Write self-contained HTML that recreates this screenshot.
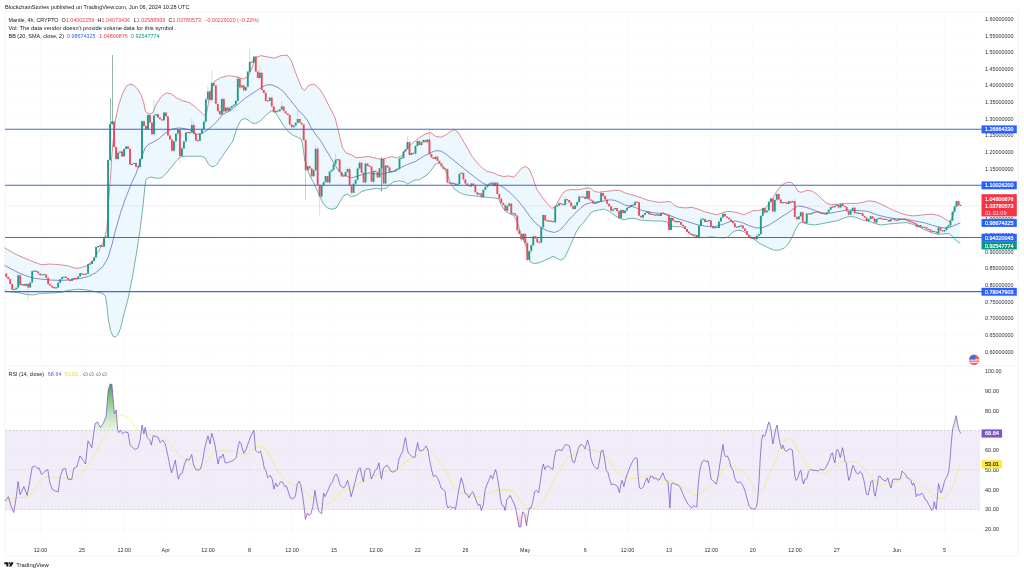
<!DOCTYPE html>
<html lang="en"><head><meta charset="utf-8"><title>Mantle 4h chart</title>
<style>html,body{margin:0;padding:0;background:#fff;}body{width:1024px;height:573px;overflow:hidden;font-family:"Liberation Sans", Arial, sans-serif;}svg{display:block}</style>
</head><body>
<svg width="1024" height="573" viewBox="0 0 1024 573" font-family='"Liberation Sans", Arial, sans-serif' shape-rendering="geometricPrecision">
<rect width="1024" height="573" fill="#ffffff"/>
<defs>
<linearGradient id="gob" x1="0" y1="384" x2="0" y2="431" gradientUnits="userSpaceOnUse"><stop offset="0" stop-color="#3d9a4a" stop-opacity="0.95"/><stop offset="0.5" stop-color="#66bb6a" stop-opacity="0.6"/><stop offset="1" stop-color="#a5d6a7" stop-opacity="0.25"/></linearGradient>
<linearGradient id="gos" x1="0" y1="509" x2="0" y2="528" gradientUnits="userSpaceOnUse"><stop offset="0" stop-color="#ff8a80" stop-opacity="0.05"/><stop offset="1" stop-color="#ff5252" stop-opacity="0.5"/></linearGradient>
<clipPath id="cob"><rect x="0" y="370" width="965" height="60.4"/></clipPath>
<clipPath id="cos"><rect x="0" y="509.4" width="965" height="30"/></clipPath>
<filter id="soft" x="-2%" y="-2%" width="104%" height="104%"><feGaussianBlur stdDeviation="0.32"/></filter>
</defs>
<g filter="url(#soft)">
<rect x="5" y="12" width="1013.5" height="543.7" fill="none" stroke="#f0f2f6" stroke-width="0.8"/>
<line x1="5" x2="1018.5" y1="365.8" y2="365.8" stroke="#eceef3" stroke-width="0.8"/>
<path d="M40.5 12V542 M82.0 12V542 M124.2 12V542 M165.8 12V542 M208.0 12V542 M249.5 12V542 M292.0 12V542 M334.0 12V542 M376.0 12V542 M417.8 12V542 M465.5 12V542 M525.0 12V542 M585.2 12V542 M627.5 12V542 M669.0 12V542 M711.2 12V542 M752.8 12V542 M795.0 12V542 M836.8 12V542 M896.8 12V542 M944.5 12V542 M5 18.9H980 M5 35.5H980 M5 52.2H980 M5 68.8H980 M5 85.5H980 M5 102.1H980 M5 118.7H980 M5 135.4H980 M5 152.0H980 M5 168.7H980 M5 185.3H980 M5 201.9H980 M5 218.6H980 M5 235.2H980 M5 251.9H980 M5 268.5H980 M5 285.1H980 M5 301.8H980 M5 318.4H980 M5 335.1H980 M5 351.7H980 M5 371.5H980 M5 391.2H980 M5 410.9H980 M5 450.3H980 M5 489.7H980 M5 529.1H980" stroke="#f8f9fb" stroke-width="0.7" fill="none"/>
<line x1="5" x2="981" y1="206.0" y2="206.0" stroke="#f2eaee" stroke-width="0.9"/>
<polygon points="4.5,247.7 15.0,254.0 25.0,258.3 32.7,261.6 41.5,264.8 50.0,264.0 60.0,264.8 68.0,265.8 75.4,268.3 80.4,267.8 86.7,265.8 93.0,260.3 99.2,250.2 103.0,242.7 106.8,230.0 108.3,205.0 109.5,190.0 110.9,172.0 111.4,161.0 112.7,145.0 115.3,120.8 118.6,105.4 122.4,94.0 126.2,86.5 130.0,84.0 133.7,85.3 137.5,89.0 141.3,95.3 143.8,102.9 145.5,111.7 149.0,114.0 152.6,113.0 156.3,104.0 161.4,96.6 166.4,92.8 171.4,94.0 176.5,97.8 182.7,100.8 189.0,102.4 194.0,105.9 199.1,110.4 204.1,115.4 206.6,113.0 209.0,100.0 211.0,90.0 214.2,81.5 220.6,77.7 228.1,75.7 235.7,76.5 243.2,79.0 248.2,76.5 252.0,67.7 255.8,57.6 260.8,55.6 268.3,57.1 274.6,58.1 280.9,55.6 287.2,55.1 291.0,60.1 294.7,70.2 298.5,80.2 302.3,89.0 304.8,90.3 308.6,85.3 313.6,84.0 318.6,87.8 323.7,95.3 328.7,105.4 331.2,110.0 335.0,117.5 337.5,127.6 340.0,137.7 342.5,147.7 346.3,153.2 351.3,154.8 356.3,157.8 361.4,157.3 368.9,156.5 376.5,158.3 381.5,159.5 386.5,158.3 391.5,156.5 396.6,157.8 401.6,156.5 405.4,150.2 409.2,146.5 413.0,142.7 419.3,137.7 425.6,133.9 430.6,132.6 435.7,136.4 440.7,137.2 445.7,135.1 450.7,131.4 454.5,129.6 458.3,132.6 462.0,138.9 467.1,147.7 472.1,156.5 477.1,162.8 482.2,167.8 487.2,171.6 492.2,172.4 497.3,174.9 503.5,176.6 508.6,175.9 514.0,177.2 517.8,172.7 521.6,168.2 525.4,166.4 529.1,168.9 532.9,177.7 536.7,189.0 541.7,196.6 546.7,202.9 551.8,208.4 555.5,206.6 559.3,199.1 563.1,192.8 566.9,190.3 571.9,189.5 576.9,189.8 581.9,189.0 587.0,187.8 590.7,188.3 594.5,191.5 599.5,192.3 604.6,191.5 609.6,191.0 614.6,190.3 619.7,190.3 624.7,192.8 629.0,194.0 635.3,195.8 641.6,197.8 647.9,200.3 654.2,201.6 660.5,202.4 666.7,201.6 670.5,201.6 674.3,205.4 679.3,207.4 685.6,207.9 691.9,207.4 698.2,209.1 704.5,211.7 710.7,213.4 717.0,214.9 722.1,212.9 727.1,211.2 732.1,211.7 738.4,212.9 744.0,214.9 747.8,212.9 752.8,210.9 759.1,210.4 764.1,209.1 769.1,204.1 772.9,197.8 776.7,191.5 780.5,186.5 784.2,183.5 788.0,182.2 791.8,182.7 795.5,186.5 798.1,191.5 801.8,192.3 806.9,190.3 811.9,191.0 816.9,194.1 821.9,199.1 827.0,203.4 832.0,204.9 838.3,204.1 844.6,203.4 850.9,203.4 857.1,203.4 862.3,202.4 868.6,200.8 874.9,201.6 881.1,204.1 887.4,207.4 893.7,210.4 900.0,212.9 906.3,214.9 912.6,215.9 918.9,215.4 925.1,214.7 931.4,214.2 936.5,214.9 941.5,216.7 946.5,220.0 950.0,222.0 952.0,218.0 954.0,212.0 956.0,207.0 958.0,204.0 960.3,202.5 960.3,243.4 956.6,241.1 952.8,236.8 949.0,233.5 944.0,233.8 937.7,234.3 931.4,232.5 925.1,230.0 918.9,226.7 912.6,224.2 906.3,222.5 900.0,223.0 893.7,223.5 887.4,224.2 881.1,225.0 874.9,223.5 868.6,221.0 862.3,220.0 856.0,217.4 853.4,216.7 848.4,216.7 843.3,218.4 838.3,220.5 832.0,221.7 825.7,223.0 819.4,224.2 814.4,225.0 808.1,224.2 803.1,222.5 799.3,223.0 795.5,229.3 791.8,238.0 788.0,244.3 784.2,248.1 779.2,250.1 774.2,250.1 769.1,248.1 764.1,245.6 759.1,243.1 754.1,239.3 749.0,235.0 744.0,231.8 740.9,230.5 735.9,230.5 732.1,232.5 728.3,236.8 724.6,238.0 718.3,237.6 710.7,236.8 704.5,237.6 696.9,237.6 691.9,235.0 688.1,231.8 684.3,228.0 680.6,226.7 674.3,226.7 669.3,225.5 666.7,221.7 661.7,221.0 654.2,221.0 646.6,220.5 639.1,220.0 635.3,218.4 629.0,218.4 624.7,219.8 619.7,218.5 614.6,215.4 609.6,211.7 604.6,209.1 599.5,209.9 594.5,210.9 590.7,212.9 587.0,218.0 583.2,223.0 579.4,226.7 575.7,233.0 571.9,241.8 568.1,250.6 564.3,258.2 560.6,260.2 556.8,258.2 553.0,256.2 549.3,258.2 544.2,260.7 539.2,262.7 534.2,263.7 530.4,262.0 529.1,258.2 527.4,249.5 523.7,240.7 519.9,230.7 517.4,221.9 513.6,215.6 508.6,213.1 504.8,210.6 501.0,204.3 498.5,198.5 494.7,198.0 488.5,197.5 482.2,196.7 475.9,196.0 469.6,195.5 463.3,194.2 458.3,191.7 454.5,189.2 450.7,182.9 447.0,174.1 443.2,166.6 439.4,162.8 435.7,164.0 431.9,169.1 428.1,174.1 423.1,177.4 419.2,179.9 415.4,179.9 411.7,181.7 407.9,184.2 404.1,181.7 399.1,180.9 394.0,181.7 390.3,184.2 386.5,188.0 381.5,189.2 376.5,188.4 371.4,189.2 366.4,190.0 361.4,191.7 356.3,195.5 351.3,196.7 347.5,194.2 343.8,195.5 340.0,201.8 336.2,208.0 331.2,209.3 327.4,208.0 323.7,204.3 319.9,196.7 316.1,188.0 312.3,180.4 308.6,172.9 304.8,160.3 302.3,142.7 301.0,139.0 298.5,137.6 293.5,135.5 288.5,131.8 283.4,125.5 279.7,119.2 275.9,113.0 272.0,110.4 267.0,114.2 260.8,120.5 255.8,123.5 252.0,123.0 248.2,120.0 244.5,118.5 240.7,120.5 236.9,128.0 233.1,140.6 228.1,148.0 221.8,156.9 216.8,164.5 215.4,165.7 211.7,167.0 207.9,163.2 205.4,158.2 201.6,156.2 194.0,156.2 186.5,156.2 180.2,156.9 176.5,160.7 171.4,167.0 166.4,173.3 161.4,177.8 156.3,178.3 151.3,177.0 147.6,178.0 145.8,180.2 144.8,187.7 142.8,207.8 140.3,228.0 136.5,253.0 132.7,275.7 129.0,294.0 128.0,299.0 125.6,308.0 123.0,318.0 120.6,328.0 118.0,334.4 115.6,337.0 113.0,336.2 110.6,330.7 108.5,320.6 106.8,305.5 105.5,296.7 103.0,293.5 95.5,291.7 86.7,290.0 77.9,289.2 67.8,290.5 60.3,292.5 50.0,293.0 40.2,293.5 32.7,295.0 25.0,294.2 20.0,293.0 4.5,291.0" fill="#2196f3" fill-opacity="0.07"/>
<polyline points="4.5,247.7 15.0,254.0 25.0,258.3 32.7,261.6 41.5,264.8 50.0,264.0 60.0,264.8 68.0,265.8 75.4,268.3 80.4,267.8 86.7,265.8 93.0,260.3 99.2,250.2 103.0,242.7 106.8,230.0 108.3,205.0 109.5,190.0 110.9,172.0 111.4,161.0 112.7,145.0 115.3,120.8 118.6,105.4 122.4,94.0 126.2,86.5 130.0,84.0 133.7,85.3 137.5,89.0 141.3,95.3 143.8,102.9 145.5,111.7 149.0,114.0 152.6,113.0 156.3,104.0 161.4,96.6 166.4,92.8 171.4,94.0 176.5,97.8 182.7,100.8 189.0,102.4 194.0,105.9 199.1,110.4 204.1,115.4 206.6,113.0 209.0,100.0 211.0,90.0 214.2,81.5 220.6,77.7 228.1,75.7 235.7,76.5 243.2,79.0 248.2,76.5 252.0,67.7 255.8,57.6 260.8,55.6 268.3,57.1 274.6,58.1 280.9,55.6 287.2,55.1 291.0,60.1 294.7,70.2 298.5,80.2 302.3,89.0 304.8,90.3 308.6,85.3 313.6,84.0 318.6,87.8 323.7,95.3 328.7,105.4 331.2,110.0 335.0,117.5 337.5,127.6 340.0,137.7 342.5,147.7 346.3,153.2 351.3,154.8 356.3,157.8 361.4,157.3 368.9,156.5 376.5,158.3 381.5,159.5 386.5,158.3 391.5,156.5 396.6,157.8 401.6,156.5 405.4,150.2 409.2,146.5 413.0,142.7 419.3,137.7 425.6,133.9 430.6,132.6 435.7,136.4 440.7,137.2 445.7,135.1 450.7,131.4 454.5,129.6 458.3,132.6 462.0,138.9 467.1,147.7 472.1,156.5 477.1,162.8 482.2,167.8 487.2,171.6 492.2,172.4 497.3,174.9 503.5,176.6 508.6,175.9 514.0,177.2 517.8,172.7 521.6,168.2 525.4,166.4 529.1,168.9 532.9,177.7 536.7,189.0 541.7,196.6 546.7,202.9 551.8,208.4 555.5,206.6 559.3,199.1 563.1,192.8 566.9,190.3 571.9,189.5 576.9,189.8 581.9,189.0 587.0,187.8 590.7,188.3 594.5,191.5 599.5,192.3 604.6,191.5 609.6,191.0 614.6,190.3 619.7,190.3 624.7,192.8 629.0,194.0 635.3,195.8 641.6,197.8 647.9,200.3 654.2,201.6 660.5,202.4 666.7,201.6 670.5,201.6 674.3,205.4 679.3,207.4 685.6,207.9 691.9,207.4 698.2,209.1 704.5,211.7 710.7,213.4 717.0,214.9 722.1,212.9 727.1,211.2 732.1,211.7 738.4,212.9 744.0,214.9 747.8,212.9 752.8,210.9 759.1,210.4 764.1,209.1 769.1,204.1 772.9,197.8 776.7,191.5 780.5,186.5 784.2,183.5 788.0,182.2 791.8,182.7 795.5,186.5 798.1,191.5 801.8,192.3 806.9,190.3 811.9,191.0 816.9,194.1 821.9,199.1 827.0,203.4 832.0,204.9 838.3,204.1 844.6,203.4 850.9,203.4 857.1,203.4 862.3,202.4 868.6,200.8 874.9,201.6 881.1,204.1 887.4,207.4 893.7,210.4 900.0,212.9 906.3,214.9 912.6,215.9 918.9,215.4 925.1,214.7 931.4,214.2 936.5,214.9 941.5,216.7 946.5,220.0 950.0,222.0 952.0,218.0 954.0,212.0 956.0,207.0 958.0,204.0 960.3,202.5" fill="none" stroke="#cc424e" stroke-width="0.65" stroke-opacity="0.95" stroke-linejoin="round"/>
<polyline points="4.5,291.0 20.0,293.0 25.0,294.2 32.7,295.0 40.2,293.5 50.0,293.0 60.3,292.5 67.8,290.5 77.9,289.2 86.7,290.0 95.5,291.7 103.0,293.5 105.5,296.7 106.8,305.5 108.5,320.6 110.6,330.7 113.0,336.2 115.6,337.0 118.0,334.4 120.6,328.0 123.0,318.0 125.6,308.0 128.0,299.0 129.0,294.0 132.7,275.7 136.5,253.0 140.3,228.0 142.8,207.8 144.8,187.7 145.8,180.2 147.6,178.0 151.3,177.0 156.3,178.3 161.4,177.8 166.4,173.3 171.4,167.0 176.5,160.7 180.2,156.9 186.5,156.2 194.0,156.2 201.6,156.2 205.4,158.2 207.9,163.2 211.7,167.0 215.4,165.7 216.8,164.5 221.8,156.9 228.1,148.0 233.1,140.6 236.9,128.0 240.7,120.5 244.5,118.5 248.2,120.0 252.0,123.0 255.8,123.5 260.8,120.5 267.0,114.2 272.0,110.4 275.9,113.0 279.7,119.2 283.4,125.5 288.5,131.8 293.5,135.5 298.5,137.6 301.0,139.0 302.3,142.7 304.8,160.3 308.6,172.9 312.3,180.4 316.1,188.0 319.9,196.7 323.7,204.3 327.4,208.0 331.2,209.3 336.2,208.0 340.0,201.8 343.8,195.5 347.5,194.2 351.3,196.7 356.3,195.5 361.4,191.7 366.4,190.0 371.4,189.2 376.5,188.4 381.5,189.2 386.5,188.0 390.3,184.2 394.0,181.7 399.1,180.9 404.1,181.7 407.9,184.2 411.7,181.7 415.4,179.9 419.2,179.9 423.1,177.4 428.1,174.1 431.9,169.1 435.7,164.0 439.4,162.8 443.2,166.6 447.0,174.1 450.7,182.9 454.5,189.2 458.3,191.7 463.3,194.2 469.6,195.5 475.9,196.0 482.2,196.7 488.5,197.5 494.7,198.0 498.5,198.5 501.0,204.3 504.8,210.6 508.6,213.1 513.6,215.6 517.4,221.9 519.9,230.7 523.7,240.7 527.4,249.5 529.1,258.2 530.4,262.0 534.2,263.7 539.2,262.7 544.2,260.7 549.3,258.2 553.0,256.2 556.8,258.2 560.6,260.2 564.3,258.2 568.1,250.6 571.9,241.8 575.7,233.0 579.4,226.7 583.2,223.0 587.0,218.0 590.7,212.9 594.5,210.9 599.5,209.9 604.6,209.1 609.6,211.7 614.6,215.4 619.7,218.5 624.7,219.8 629.0,218.4 635.3,218.4 639.1,220.0 646.6,220.5 654.2,221.0 661.7,221.0 666.7,221.7 669.3,225.5 674.3,226.7 680.6,226.7 684.3,228.0 688.1,231.8 691.9,235.0 696.9,237.6 704.5,237.6 710.7,236.8 718.3,237.6 724.6,238.0 728.3,236.8 732.1,232.5 735.9,230.5 740.9,230.5 744.0,231.8 749.0,235.0 754.1,239.3 759.1,243.1 764.1,245.6 769.1,248.1 774.2,250.1 779.2,250.1 784.2,248.1 788.0,244.3 791.8,238.0 795.5,229.3 799.3,223.0 803.1,222.5 808.1,224.2 814.4,225.0 819.4,224.2 825.7,223.0 832.0,221.7 838.3,220.5 843.3,218.4 848.4,216.7 853.4,216.7 856.0,217.4 862.3,220.0 868.6,221.0 874.9,223.5 881.1,225.0 887.4,224.2 893.7,223.5 900.0,223.0 906.3,222.5 912.6,224.2 918.9,226.7 925.1,230.0 931.4,232.5 937.7,234.3 944.0,233.8 949.0,233.5 952.8,236.8 956.6,241.1 960.3,243.4" fill="none" stroke="#1f8472" stroke-width="0.65" stroke-opacity="0.95" stroke-linejoin="round"/>
<polyline points="4.5,265.3 11.3,269.0 18.8,272.9 25.0,275.4 32.7,277.9 40.2,279.0 50.2,280.0 60.3,280.4 70.3,280.0 80.4,278.4 88.0,276.6 95.5,272.9 103.0,266.6 108.0,257.8 111.8,245.2 115.6,230.0 120.6,212.6 124.9,200.0 131.2,184.0 136.2,173.3 141.3,158.2 145.0,148.0 148.8,144.3 153.8,141.8 158.9,138.6 163.9,134.3 168.9,130.5 174.0,128.5 179.0,128.0 184.0,128.5 191.5,130.5 196.6,134.3 201.6,133.5 206.6,130.5 211.7,126.7 216.7,121.7 223.0,114.2 230.6,110.4 238.2,104.0 245.7,97.8 253.3,92.8 260.8,87.8 267.0,84.8 272.0,84.8 278.4,87.8 283.4,91.5 288.5,97.8 293.5,104.0 298.5,110.4 303.5,115.4 307.3,120.0 311.1,127.6 316.1,135.1 321.1,141.4 326.2,150.2 330.0,156.5 333.7,162.8 337.5,169.1 341.3,174.1 346.3,175.9 351.3,177.9 356.3,176.6 361.4,174.9 368.9,172.9 376.5,174.1 381.5,174.1 386.5,172.9 391.5,171.6 396.6,170.3 401.6,167.3 406.6,164.8 411.7,162.8 415.5,161.5 423.1,156.5 430.6,152.7 435.7,150.7 440.7,151.0 445.7,154.0 452.0,159.0 458.3,164.0 464.6,169.1 470.9,174.1 477.1,179.1 483.4,183.4 488.5,185.4 494.7,184.9 499.8,185.4 504.8,188.4 510.3,192.8 516.6,199.1 522.9,206.6 529.1,215.4 535.4,223.0 541.7,228.0 548.0,231.0 554.3,232.5 559.3,230.5 564.3,225.5 569.4,219.2 574.4,214.2 579.4,209.1 584.5,204.9 589.5,202.9 594.5,202.4 599.5,201.6 604.6,200.8 609.6,199.8 614.6,200.3 619.7,202.4 624.7,204.9 629.0,205.9 635.3,207.4 641.6,210.4 647.9,211.7 654.2,212.9 660.5,213.4 666.7,214.2 673.0,216.7 679.3,219.2 685.6,221.0 691.9,223.0 698.2,225.0 704.5,226.0 710.7,226.7 717.0,226.0 723.3,224.2 729.6,221.7 735.9,221.0 742.2,222.5 748.5,225.5 756.6,228.0 762.9,227.5 769.1,225.0 775.4,221.0 781.7,216.7 788.0,212.9 793.0,209.1 798.1,205.9 803.1,206.6 809.4,208.4 815.7,210.9 821.9,212.9 828.2,213.4 834.5,212.4 840.8,211.2 847.1,209.9 853.4,210.4 859.7,210.7 865.0,211.0 868.6,211.7 874.9,214.2 881.1,215.9 887.4,217.4 893.7,218.4 900.0,219.2 906.3,219.5 912.6,220.5 918.9,221.7 925.1,223.0 931.4,225.0 937.7,226.7 944.0,228.0 949.0,227.5 954.1,225.5 960.3,222.8" fill="none" stroke="#2f4fa8" stroke-width="0.65" stroke-opacity="0.95" stroke-linejoin="round"/>
<path d="M14.22 288.6V289.8M16.22 287.0V290.1M18.22 274.5V289.8M22.21 284.0V285.5M26.20 283.3V286.4M30.19 281.7V287.9M32.19 270.3V283.2M34.19 270.7V271.5M42.17 274.2V275.3M44.17 273.9V275.0M56.15 287.3V288.3M58.14 282.0V287.9M60.14 279.2V283.9M62.14 276.8V279.7M64.13 276.8V277.4M72.12 278.2V281.0M78.11 275.9V279.6M80.10 272.6V277.4M86.09 273.4V274.7M88.09 264.2V273.9M90.08 263.8V264.6M92.08 261.1V264.1M94.08 256.9V261.1M96.07 245.7V257.7M98.07 245.9V247.3M100.07 245.0V246.9M104.06 236.5V247.3M106.05 236.9V237.2M108.05 158.8V237.3M118.03 152.2V160.6M120.03 150.6V153.5M124.02 148.3V156.4M126.02 146.0V149.4M132.01 164.0V164.5M134.00 162.7V164.7M139.99 157.1V168.7M141.99 120.1V159.5M147.98 113.5V129.7M153.97 100.0V134.9M155.96 114.2V115.4M163.95 112.0V121.6M173.93 141.1V151.7M175.92 133.5V142.9M177.92 129.0V134.6M181.91 146.7V156.1M183.91 140.9V149.0M185.91 131.3V142.7M189.90 132.3V133.2M191.89 118.0V133.8M199.88 133.2V141.8M201.88 128.7V133.5M203.87 120.0V131.1M205.87 97.6V123.1M207.87 86.5V101.3M211.86 70.0V101.9M221.84 97.7V114.7M225.83 107.0V111.6M229.82 106.6V111.8M231.82 105.9V108.8M233.82 104.2V106.2M235.81 99.8V105.5M237.81 76.3V102.3M241.80 84.5V88.1M245.79 86.7V91.2M247.79 71.4V87.2M249.79 48.8V72.3M253.78 56.1V63.4M259.77 65.0V78.2M267.75 100.4V101.4M269.75 97.1V101.0M275.74 110.4V112.8M279.73 109.0V111.7M281.73 101.6V110.5M293.71 125.4V127.5M295.70 121.9V126.2M297.70 110.0V123.7M307.68 166.0V171.1M313.67 168.8V176.8M315.67 145.6V171.1M321.65 185.3V198.1M323.65 181.4V186.1M325.65 176.0V183.7M329.64 171.2V184.1M331.64 169.3V172.0M333.63 162.9V171.4M335.63 154.0V164.4M337.62 159.4V160.1M345.61 171.3V177.0M347.61 167.6V172.4M353.60 183.1V193.2M355.59 179.4V184.6M357.59 167.4V181.8M359.58 161.0V169.6M365.57 162.4V183.5M373.56 169.4V183.8M379.55 167.7V177.6M385.54 165.0V184.3M391.52 170.9V172.4M395.52 169.1V171.7M397.51 168.4V169.8M399.51 157.9V170.2M401.51 157.8V159.1M403.50 150.4V158.8M405.50 149.0V151.9M407.50 136.4V149.7M411.49 152.8V155.1M415.48 144.8V155.5M417.48 140.2V146.8M421.47 141.8V146.4M423.47 139.5V142.9M427.46 138.9V142.8M435.44 156.2V160.0M457.40 183.8V185.9M459.40 171.7V185.2M461.40 172.6V174.1M471.38 183.1V187.1M479.36 193.1V195.2M483.35 189.2V198.2M485.35 185.9V189.9M487.35 185.0V188.2M489.34 183.6V185.3M491.34 182.0V184.4M495.33 182.1V187.0M507.31 204.4V211.4M509.31 202.8V206.4M513.30 213.5V213.9M523.28 233.3V240.9M529.27 251.0V260.5M531.27 243.4V253.0M533.26 235.7V246.3M541.25 226.4V244.2M543.24 214.4V228.9M551.23 220.9V221.7M555.22 205.0V223.6M557.22 204.9V206.9M559.21 202.2V205.9M565.20 196.0V206.1M575.18 205.6V209.5M577.18 201.7V207.1M579.18 195.0V202.7M583.17 196.1V197.3M587.16 187.0V199.3M595.15 202.7V203.8M597.14 201.9V203.6M599.14 201.3V202.0M601.14 190.0V202.6M613.11 208.5V211.1M615.11 207.6V209.4M621.10 208.8V218.5M625.09 210.0V214.1M627.09 207.5V210.8M629.08 206.2V208.2M631.08 204.0V207.4M635.07 201.0V205.6M643.06 213.9V218.6M645.06 212.3V215.6M647.05 210.8V213.1M651.04 213.9V214.5M657.03 214.3V215.9M661.03 212.7V216.2M671.01 215.8V230.3M677.00 220.8V222.4M694.96 234.8V235.4M698.96 224.4V239.1M700.95 217.2V227.0M702.95 218.3V219.5M706.94 220.4V222.3M708.94 220.4V221.4M714.93 227.2V228.3M718.92 221.2V228.3M720.91 217.4V221.5M722.91 213.7V218.0M738.88 225.6V227.7M740.88 224.8V226.4M752.86 237.9V238.8M756.85 234.4V240.3M758.84 233.4V236.1M760.84 215.4V234.7M762.84 207.2V217.3M766.83 209.9V212.9M768.83 200.7V211.0M770.82 197.2V202.1M774.81 198.2V213.6M776.81 193.4V201.6M782.80 202.1V203.6M788.79 200.4V204.0M792.78 200.4V203.0M798.77 216.1V220.1M800.77 211.0V217.5M806.76 213.2V223.3M810.75 213.1V214.5M812.74 212.1V214.3M816.74 211.4V212.6M822.73 213.2V213.8M826.72 211.8V214.6M828.71 209.6V213.4M830.71 206.9V210.0M834.70 205.4V207.9M836.70 204.5V206.2M840.69 203.8V208.6M850.67 209.5V214.8M852.67 207.3V212.2M856.66 212.4V213.3M860.66 213.0V214.0M868.64 218.6V221.4M870.64 215.3V220.0M876.63 218.6V224.1M878.62 217.8V219.7M884.61 218.6V219.6M890.60 218.5V222.1M892.60 218.5V219.5M898.59 218.3V221.5M900.58 218.5V219.5M904.57 218.8V219.3M918.55 224.9V227.5M922.54 226.7V227.8M932.52 231.1V231.7M938.51 227.1V234.9M944.50 229.3V232.4M946.50 226.5V230.9M948.49 224.3V227.5M950.49 219.1V226.8M952.49 211.0V221.8M954.48 204.8V212.4M956.48 200.5V207.1" stroke="#0f9480" stroke-width="0.55" stroke-opacity="0.45" fill="none"/>
<path d="M6.24 273.3V277.8M8.24 276.3V279.4M10.23 278.1V284.0M12.23 283.7V289.9M20.21 273.5V285.8M24.21 283.9V286.3M28.20 283.6V300.5M36.18 270.8V272.0M38.18 271.1V274.7M40.18 273.2V276.1M46.16 273.9V278.8M48.16 276.5V285.2M50.16 283.2V286.3M52.15 285.8V288.1M54.15 286.7V288.5M66.13 276.0V278.8M68.12 277.8V280.2M70.12 279.0V281.6M74.11 278.1V278.9M76.11 278.5V278.8M82.10 273.3V275.2M84.09 273.8V275.2M102.06 245.2V246.8M114.04 120.7V147.4M116.04 145.8V160.6M122.02 150.0V156.8M128.01 145.2V149.3M130.01 146.6V166.4M136.00 161.6V167.6M137.99 166.3V167.1M143.98 120.5V127.4M145.98 125.4V129.9M149.97 114.8V124.4M151.97 122.1V136.0M157.96 113.4V118.1M159.95 116.9V120.1M161.95 119.0V120.6M165.94 111.9V116.9M167.94 115.9V136.6M169.94 134.1V140.2M171.93 138.5V151.9M179.92 129.0V163.0M187.90 131.8V133.1M193.89 122.8V135.5M195.89 131.8V141.2M197.88 140.0V141.4M209.86 89.4V100.9M213.85 82.4V86.3M215.85 85.2V104.6M217.85 103.8V112.4M219.84 111.1V115.1M223.84 97.1V113.6M227.83 107.1V110.9M239.81 78.2V89.5M243.80 84.4V92.1M251.78 61.2V62.9M255.78 55.9V71.7M257.77 70.4V78.4M261.77 71.9V91.0M263.76 89.4V93.7M265.76 90.8V101.8M271.75 97.4V108.2M273.74 106.2V112.4M277.74 111.0V111.4M283.72 106.0V112.9M285.72 110.7V113.4M287.72 112.9V115.5M289.71 113.9V124.5M291.71 124.4V127.7M299.70 118.5V123.1M301.69 122.5V125.1M303.69 124.3V141.8M309.68 165.2V169.5M311.67 167.2V178.2M317.66 146.9V186.0M319.66 183.4V215.6M327.64 176.0V183.0M339.62 158.3V172.1M341.62 171.6V177.2M343.61 175.7V176.4M349.60 166.8V185.8M351.60 184.0V194.9M361.58 161.2V173.2M363.58 171.6V182.6M367.57 163.3V166.3M369.57 165.2V166.7M371.56 164.9V182.1M375.55 170.6V172.2M377.55 170.7V178.2M383.54 158.3V184.0M387.53 164.4V168.3M389.53 165.7V174.1M393.52 171.2V172.1M409.49 139.8V156.0M413.48 153.0V153.8M419.47 140.4V145.6M425.46 139.9V142.6M429.45 128.9V156.1M431.45 154.1V158.5M433.45 157.1V159.5M437.44 155.3V162.3M439.44 160.6V163.7M441.43 162.6V168.0M443.43 166.0V169.5M445.43 168.3V168.9M447.42 168.4V184.5M449.42 182.2V183.5M451.41 183.0V183.8M453.41 183.3V183.7M455.41 183.0V185.8M463.39 170.9V181.0M465.39 179.4V184.3M467.38 183.1V185.7M469.38 184.6V186.7M473.37 183.3V186.2M475.37 184.2V192.6M477.37 191.8V195.5M481.36 191.8V198.1M493.34 181.4V187.0M497.33 182.3V195.3M499.33 193.2V199.1M501.32 198.5V203.4M503.32 201.9V205.1M505.31 204.5V211.4M511.30 203.0V214.5M515.30 212.7V215.5M517.29 215.3V232.4M519.29 229.3V235.4M521.28 233.5V243.0M525.28 233.2V243.1M527.27 241.0V262.0M535.26 235.2V238.6M537.25 237.2V243.4M539.25 241.7V242.7M545.24 214.7V220.6M547.24 220.3V221.5M549.23 220.1V221.5M553.23 220.6V222.3M561.21 202.8V204.9M563.21 204.0V205.2M567.20 198.8V201.0M569.20 199.9V203.4M571.19 200.9V206.4M573.19 205.2V210.1M581.17 196.5V197.4M585.17 196.1V199.1M589.16 189.8V201.0M591.15 199.6V200.9M593.15 200.4V203.8M603.13 192.7V197.4M605.13 195.3V200.2M607.13 198.2V205.4M609.12 203.6V207.1M611.12 206.2V212.3M617.11 207.3V211.9M619.10 210.8V219.5M623.10 209.2V214.5M633.08 204.6V205.9M637.07 201.5V202.8M639.07 201.8V216.7M641.06 215.4V217.6M649.05 210.9V215.0M653.04 213.6V215.2M655.04 214.8V215.7M659.03 214.0V216.2M663.02 212.8V213.9M665.02 213.5V215.1M667.01 214.0V215.5M669.01 214.8V231.2M673.00 216.6V221.8M675.00 220.7V222.6M678.99 220.9V222.6M680.99 221.4V225.7M682.98 223.8V226.6M684.98 226.1V229.7M686.98 228.8V232.1M688.97 231.4V233.5M690.97 233.4V235.2M692.97 233.7V235.2M696.96 234.5V238.2M704.94 218.1V222.7M710.93 219.1V228.3M712.93 225.5V228.5M716.92 226.9V228.2M724.91 213.1V217.0M726.90 215.7V218.2M728.90 216.9V219.5M730.90 219.1V221.7M732.89 220.2V223.6M734.89 223.2V228.1M736.88 226.9V227.5M742.87 224.9V228.9M744.87 227.6V231.0M746.87 229.5V235.3M748.86 234.4V237.6M750.86 236.2V238.9M754.85 237.5V239.8M764.83 206.5V213.6M772.82 198.6V212.1M778.81 193.6V201.2M780.80 198.4V204.0M784.80 202.0V202.8M786.79 202.0V204.2M790.78 201.0V202.7M794.78 199.0V217.0M796.77 216.1V220.1M802.76 212.2V223.6M804.76 220.7V223.4M808.75 212.8V214.8M814.74 212.0V212.6M818.73 211.3V213.1M820.73 212.4V214.2M824.72 212.5V214.7M832.71 206.2V207.2M838.70 204.6V208.8M842.69 204.0V206.7M844.68 205.3V207.5M846.68 205.9V211.7M848.68 210.5V216.1M854.67 207.0V214.6M858.66 212.0V214.4M862.65 212.4V217.0M864.65 215.6V218.1M866.64 217.2V221.9M872.63 216.0V218.9M874.63 217.7V222.9M880.62 217.5V219.6M882.61 218.2V219.9M886.61 218.7V220.0M888.60 219.2V222.2M894.59 218.0V220.6M896.59 219.7V220.9M902.58 218.4V219.6M906.57 218.5V221.0M908.57 220.2V221.6M910.56 220.8V222.2M912.56 221.1V223.2M914.56 222.5V224.1M916.55 222.5V226.7M920.54 224.5V227.4M924.54 226.6V228.1M926.53 227.1V230.3M928.53 228.9V229.7M930.53 229.3V232.6M934.52 231.2V232.1M936.51 231.1V233.7M940.51 226.9V230.6M942.50 230.0V231.8M958.47 200.3V205.6M960.47 204.8V205.8" stroke="#ea3f50" stroke-width="0.55" stroke-opacity="0.45" fill="none"/>
<path d="M110.50 98.0V161.2M112.50 55.0V124.9M381.50 157.0V191.7" stroke="#4f7f78" stroke-width="0.7" stroke-opacity="0.85" fill="none"/>
<path d="M305.50 138.6V200.5" stroke="#ea3f50" stroke-width="0.7" stroke-opacity="0.5" fill="none"/>
<path d="M13.27 288.9h1.9v1.2h-1.9zM15.27 287.7h1.9v1.6h-1.9zM17.27 275.3h1.9v12.3h-1.9zM21.26 284.1h1.9v1.2h-1.9zM25.25 283.7h1.9v2.0h-1.9zM29.24 282.5h1.9v4.9h-1.9zM31.24 271.3h1.9v11.2h-1.9zM33.24 270.6h1.9v1.2h-1.9zM41.22 274.4h1.9v1.2h-1.9zM43.22 273.9h1.9v1.2h-1.9zM55.20 287.2h1.9v1.2h-1.9zM57.19 282.8h1.9v4.8h-1.9zM59.19 279.3h1.9v3.5h-1.9zM61.19 277.1h1.9v2.1h-1.9zM63.18 276.4h1.9v1.2h-1.9zM71.17 278.4h1.9v2.4h-1.9zM77.16 276.6h1.9v2.0h-1.9zM79.15 273.3h1.9v3.2h-1.9zM85.14 273.6h1.9v1.2h-1.9zM87.14 264.3h1.9v9.4h-1.9zM89.13 263.5h1.9v1.2h-1.9zM91.13 261.1h1.9v2.8h-1.9zM93.13 257.4h1.9v3.6h-1.9zM95.12 247.0h1.9v10.4h-1.9zM97.12 246.0h1.9v1.2h-1.9zM99.12 245.3h1.9v1.2h-1.9zM103.11 237.2h1.9v9.5h-1.9zM105.10 236.5h1.9v1.2h-1.9zM107.10 160.0h1.9v77.0h-1.9zM109.10 124.0h1.9v36.0h-1.9zM111.09 121.5h1.9v2.5h-1.9zM117.08 152.7h1.9v6.2h-1.9zM119.08 151.4h1.9v1.3h-1.9zM123.07 149.1h1.9v7.3h-1.9zM125.07 146.4h1.9v2.7h-1.9zM131.06 163.7h1.9v1.2h-1.9zM133.05 162.9h1.9v1.2h-1.9zM139.04 159.1h1.9v7.9h-1.9zM141.04 121.2h1.9v37.9h-1.9zM147.03 115.1h1.9v14.2h-1.9zM153.02 115.4h1.9v18.8h-1.9zM155.01 114.2h1.9v1.2h-1.9zM163.00 112.5h1.9v7.8h-1.9zM172.98 141.2h1.9v9.5h-1.9zM174.97 133.5h1.9v7.7h-1.9zM176.97 129.7h1.9v3.8h-1.9zM180.96 148.4h1.9v7.5h-1.9zM182.96 141.4h1.9v7.0h-1.9zM184.96 132.4h1.9v9.0h-1.9zM188.95 132.1h1.9v1.2h-1.9zM190.94 124.9h1.9v7.7h-1.9zM198.93 133.4h1.9v7.4h-1.9zM200.93 129.1h1.9v4.3h-1.9zM202.92 121.7h1.9v7.4h-1.9zM204.92 99.2h1.9v22.5h-1.9zM206.92 91.5h1.9v7.7h-1.9zM210.91 82.9h1.9v17.1h-1.9zM220.89 98.9h1.9v15.7h-1.9zM224.88 107.4h1.9v4.1h-1.9zM228.87 107.8h1.9v2.9h-1.9zM230.87 106.1h1.9v1.7h-1.9zM232.87 104.8h1.9v1.3h-1.9zM234.86 100.9h1.9v3.9h-1.9zM236.86 78.4h1.9v22.5h-1.9zM240.85 85.4h1.9v2.1h-1.9zM244.84 86.9h1.9v3.5h-1.9zM246.84 71.6h1.9v15.2h-1.9zM248.84 61.9h1.9v9.8h-1.9zM252.83 56.5h1.9v6.1h-1.9zM258.82 72.8h1.9v5.2h-1.9zM266.80 100.4h1.9v1.2h-1.9zM268.80 97.6h1.9v3.3h-1.9zM274.79 111.1h1.9v1.2h-1.9zM278.78 109.2h1.9v2.0h-1.9zM280.78 106.4h1.9v2.8h-1.9zM292.76 125.5h1.9v1.7h-1.9zM294.75 122.7h1.9v2.8h-1.9zM296.75 119.1h1.9v3.6h-1.9zM306.73 166.2h1.9v4.0h-1.9zM312.72 170.3h1.9v6.0h-1.9zM314.72 148.7h1.9v21.6h-1.9zM320.70 185.3h1.9v11.1h-1.9zM322.70 182.1h1.9v3.2h-1.9zM324.70 176.1h1.9v6.0h-1.9zM328.69 171.6h1.9v10.8h-1.9zM330.69 169.8h1.9v1.8h-1.9zM332.68 164.2h1.9v5.6h-1.9zM334.68 159.7h1.9v4.6h-1.9zM336.67 159.0h1.9v1.2h-1.9zM344.66 172.1h1.9v4.1h-1.9zM346.66 168.9h1.9v3.2h-1.9zM352.65 183.7h1.9v9.1h-1.9zM354.64 179.7h1.9v4.0h-1.9zM356.64 168.6h1.9v11.1h-1.9zM358.63 162.7h1.9v5.8h-1.9zM364.62 163.5h1.9v19.0h-1.9zM372.61 170.9h1.9v10.9h-1.9zM378.60 168.3h1.9v9.2h-1.9zM380.59 158.8h1.9v9.4h-1.9zM384.59 165.4h1.9v18.1h-1.9zM390.57 171.3h1.9v1.2h-1.9zM394.57 169.4h1.9v2.2h-1.9zM396.56 168.4h1.9v1.2h-1.9zM398.56 158.6h1.9v9.9h-1.9zM400.56 157.7h1.9v1.2h-1.9zM402.55 151.6h1.9v6.3h-1.9zM404.55 149.2h1.9v2.4h-1.9zM406.55 142.0h1.9v7.2h-1.9zM410.54 153.0h1.9v2.0h-1.9zM414.53 146.1h1.9v7.5h-1.9zM416.53 141.0h1.9v5.1h-1.9zM420.52 142.2h1.9v2.9h-1.9zM422.52 140.1h1.9v2.1h-1.9zM426.51 139.4h1.9v2.9h-1.9zM434.49 156.7h1.9v2.2h-1.9zM456.45 183.8h1.9v1.8h-1.9zM458.45 173.9h1.9v10.0h-1.9zM460.45 172.8h1.9v1.2h-1.9zM470.43 183.6h1.9v2.9h-1.9zM478.41 193.3h1.9v1.2h-1.9zM482.40 189.7h1.9v7.6h-1.9zM484.40 187.1h1.9v2.6h-1.9zM486.40 185.2h1.9v1.9h-1.9zM488.39 183.6h1.9v1.6h-1.9zM490.39 182.6h1.9v1.2h-1.9zM494.38 182.4h1.9v3.3h-1.9zM506.36 205.9h1.9v4.8h-1.9zM508.36 203.4h1.9v2.5h-1.9zM512.35 213.0h1.9v1.2h-1.9zM522.33 233.8h1.9v5.7h-1.9zM528.32 251.1h1.9v8.9h-1.9zM530.32 245.3h1.9v5.8h-1.9zM532.31 236.2h1.9v9.1h-1.9zM540.30 227.2h1.9v15.3h-1.9zM542.29 214.9h1.9v12.3h-1.9zM550.28 220.6h1.9v1.2h-1.9zM554.27 206.4h1.9v15.8h-1.9zM556.27 205.3h1.9v1.2h-1.9zM558.26 203.2h1.9v2.4h-1.9zM564.25 199.2h1.9v5.8h-1.9zM574.23 205.6h1.9v3.4h-1.9zM576.23 202.0h1.9v3.6h-1.9zM578.23 196.8h1.9v5.2h-1.9zM582.22 196.4h1.9v1.2h-1.9zM586.21 191.1h1.9v7.7h-1.9zM594.20 202.7h1.9v1.2h-1.9zM596.19 202.0h1.9v1.3h-1.9zM598.19 201.2h1.9v1.2h-1.9zM600.19 193.1h1.9v8.6h-1.9zM612.16 209.3h1.9v1.4h-1.9zM614.16 208.0h1.9v1.2h-1.9zM620.15 209.9h1.9v8.2h-1.9zM624.14 210.6h1.9v2.5h-1.9zM626.14 207.8h1.9v2.8h-1.9zM628.13 206.8h1.9v1.2h-1.9zM630.13 205.0h1.9v2.0h-1.9zM634.12 202.1h1.9v3.2h-1.9zM642.11 214.8h1.9v2.7h-1.9zM644.11 212.9h1.9v1.8h-1.9zM646.10 211.6h1.9v1.4h-1.9zM650.09 213.6h1.9v1.2h-1.9zM656.08 214.3h1.9v1.2h-1.9zM660.08 212.9h1.9v3.2h-1.9zM670.06 217.9h1.9v12.1h-1.9zM676.05 221.0h1.9v1.2h-1.9zM694.01 234.4h1.9v1.2h-1.9zM698.01 225.7h1.9v11.5h-1.9zM700.00 219.4h1.9v6.3h-1.9zM702.00 218.5h1.9v1.2h-1.9zM705.99 220.8h1.9v1.3h-1.9zM707.99 220.0h1.9v1.2h-1.9zM713.98 227.1h1.9v1.2h-1.9zM717.97 221.5h1.9v6.4h-1.9zM719.96 217.4h1.9v4.0h-1.9zM721.96 213.8h1.9v3.6h-1.9zM737.93 226.1h1.9v1.2h-1.9zM739.93 225.3h1.9v1.2h-1.9zM751.91 237.9h1.9v1.2h-1.9zM755.90 235.7h1.9v3.6h-1.9zM757.89 234.2h1.9v1.5h-1.9zM759.89 215.7h1.9v18.5h-1.9zM761.89 208.0h1.9v7.7h-1.9zM765.88 210.5h1.9v1.9h-1.9zM767.88 201.8h1.9v8.6h-1.9zM769.87 198.6h1.9v3.2h-1.9zM773.86 199.9h1.9v11.7h-1.9zM775.86 194.1h1.9v5.7h-1.9zM781.85 202.1h1.9v1.2h-1.9zM787.84 201.2h1.9v2.7h-1.9zM791.83 201.3h1.9v1.3h-1.9zM797.82 216.2h1.9v3.0h-1.9zM799.82 212.3h1.9v3.9h-1.9zM805.81 213.4h1.9v9.8h-1.9zM809.80 213.3h1.9v1.2h-1.9zM811.79 212.2h1.9v1.4h-1.9zM815.79 211.4h1.9v1.2h-1.9zM821.78 212.8h1.9v1.2h-1.9zM825.77 212.4h1.9v2.0h-1.9zM827.76 209.8h1.9v2.6h-1.9zM829.76 206.9h1.9v2.8h-1.9zM833.75 205.9h1.9v1.3h-1.9zM835.75 204.8h1.9v1.2h-1.9zM839.74 204.1h1.9v3.5h-1.9zM849.72 210.9h1.9v3.8h-1.9zM851.72 207.7h1.9v3.2h-1.9zM855.71 212.2h1.9v1.2h-1.9zM859.71 212.9h1.9v1.2h-1.9zM867.69 218.9h1.9v2.3h-1.9zM869.69 216.2h1.9v2.7h-1.9zM875.68 218.9h1.9v3.7h-1.9zM877.67 217.7h1.9v1.2h-1.9zM883.66 218.7h1.9v1.2h-1.9zM889.65 219.2h1.9v2.3h-1.9zM891.65 218.4h1.9v1.2h-1.9zM897.64 219.0h1.9v1.6h-1.9zM899.63 218.4h1.9v1.2h-1.9zM903.62 218.6h1.9v1.2h-1.9zM917.60 225.1h1.9v1.6h-1.9zM921.59 226.6h1.9v1.2h-1.9zM931.57 230.7h1.9v1.2h-1.9zM937.56 227.6h1.9v5.8h-1.9zM943.55 230.1h1.9v1.5h-1.9zM945.55 227.1h1.9v3.0h-1.9zM947.54 225.3h1.9v1.7h-1.9zM949.54 220.6h1.9v4.8h-1.9zM951.54 211.7h1.9v8.9h-1.9zM953.53 206.4h1.9v5.3h-1.9zM955.53 201.0h1.9v5.4h-1.9z" fill="#0f9480" fill-opacity="0.9"/>
<path d="M5.29 273.5h1.9v3.4h-1.9zM7.29 276.9h1.9v2.1h-1.9zM9.28 279.0h1.9v4.9h-1.9zM11.28 283.9h1.9v5.8h-1.9zM19.26 275.3h1.9v9.8h-1.9zM23.26 284.1h1.9v1.6h-1.9zM27.25 283.7h1.9v3.7h-1.9zM35.23 270.7h1.9v1.2h-1.9zM37.23 271.4h1.9v2.2h-1.9zM39.23 273.6h1.9v1.7h-1.9zM45.21 274.4h1.9v3.4h-1.9zM47.21 277.8h1.9v6.4h-1.9zM49.21 284.2h1.9v1.6h-1.9zM51.20 285.8h1.9v1.6h-1.9zM53.20 287.0h1.9v1.2h-1.9zM65.18 276.8h1.9v1.3h-1.9zM67.17 278.1h1.9v1.7h-1.9zM69.17 279.7h1.9v1.2h-1.9zM73.16 277.8h1.9v1.2h-1.9zM75.16 277.9h1.9v1.2h-1.9zM81.15 273.3h1.9v1.2h-1.9zM83.14 273.9h1.9v1.2h-1.9zM101.11 245.6h1.9v1.2h-1.9zM113.09 121.5h1.9v25.5h-1.9zM115.09 147.0h1.9v11.9h-1.9zM121.07 151.4h1.9v5.0h-1.9zM127.06 146.4h1.9v2.4h-1.9zM129.06 148.8h1.9v15.6h-1.9zM135.05 162.9h1.9v3.9h-1.9zM137.04 166.3h1.9v1.2h-1.9zM143.03 121.2h1.9v4.8h-1.9zM145.03 126.0h1.9v3.3h-1.9zM149.02 115.1h1.9v7.3h-1.9zM151.02 122.4h1.9v11.8h-1.9zM157.01 114.3h1.9v3.1h-1.9zM159.00 117.4h1.9v1.8h-1.9zM161.00 119.2h1.9v1.2h-1.9zM164.99 112.5h1.9v4.1h-1.9zM166.99 116.6h1.9v18.9h-1.9zM168.99 135.6h1.9v4.0h-1.9zM170.98 139.6h1.9v11.2h-1.9zM178.97 129.7h1.9v26.2h-1.9zM186.95 132.0h1.9v1.2h-1.9zM192.94 124.9h1.9v9.0h-1.9zM194.94 133.9h1.9v6.7h-1.9zM196.93 140.1h1.9v1.2h-1.9zM208.91 91.5h1.9v8.5h-1.9zM212.90 82.9h1.9v2.7h-1.9zM214.90 85.6h1.9v18.2h-1.9zM216.90 103.9h1.9v7.3h-1.9zM218.89 111.1h1.9v3.4h-1.9zM222.89 98.9h1.9v12.6h-1.9zM226.88 107.4h1.9v3.3h-1.9zM238.86 78.4h1.9v9.2h-1.9zM242.85 85.4h1.9v4.9h-1.9zM250.83 61.6h1.9v1.2h-1.9zM254.83 56.5h1.9v15.1h-1.9zM256.82 71.6h1.9v6.4h-1.9zM260.82 72.8h1.9v17.1h-1.9zM262.81 89.9h1.9v3.1h-1.9zM264.81 93.0h1.9v8.1h-1.9zM270.80 97.6h1.9v8.9h-1.9zM272.79 106.5h1.9v5.7h-1.9zM276.79 110.6h1.9v1.2h-1.9zM282.77 106.4h1.9v4.7h-1.9zM284.77 111.2h1.9v2.2h-1.9zM286.77 113.4h1.9v1.7h-1.9zM288.76 115.0h1.9v9.5h-1.9zM290.76 124.5h1.9v2.7h-1.9zM298.75 119.1h1.9v3.6h-1.9zM300.74 122.7h1.9v1.7h-1.9zM302.74 124.4h1.9v15.6h-1.9zM304.73 140.0h1.9v30.2h-1.9zM308.73 166.2h1.9v2.3h-1.9zM310.72 168.5h1.9v7.8h-1.9zM316.71 148.7h1.9v36.0h-1.9zM318.71 184.8h1.9v11.6h-1.9zM326.69 176.1h1.9v6.3h-1.9zM338.67 159.5h1.9v12.6h-1.9zM340.67 172.1h1.9v4.1h-1.9zM342.66 175.6h1.9v1.2h-1.9zM348.65 168.9h1.9v16.9h-1.9zM350.65 185.8h1.9v7.0h-1.9zM360.63 162.7h1.9v10.0h-1.9zM362.63 172.7h1.9v9.8h-1.9zM366.62 163.5h1.9v2.4h-1.9zM368.62 165.7h1.9v1.2h-1.9zM370.61 166.7h1.9v15.1h-1.9zM374.60 170.8h1.9v1.2h-1.9zM376.60 171.9h1.9v5.6h-1.9zM382.59 158.8h1.9v24.6h-1.9zM386.58 165.4h1.9v2.0h-1.9zM388.58 167.4h1.9v4.9h-1.9zM392.57 170.9h1.9v1.2h-1.9zM408.54 142.0h1.9v13.0h-1.9zM412.53 152.7h1.9v1.2h-1.9zM418.52 141.0h1.9v4.1h-1.9zM424.51 140.1h1.9v2.1h-1.9zM428.50 139.4h1.9v14.8h-1.9zM430.50 154.1h1.9v3.4h-1.9zM432.50 157.5h1.9v1.4h-1.9zM436.49 156.7h1.9v4.1h-1.9zM438.49 160.8h1.9v2.8h-1.9zM440.48 163.5h1.9v3.1h-1.9zM442.48 166.7h1.9v2.0h-1.9zM444.48 168.2h1.9v1.2h-1.9zM446.47 168.9h1.9v13.6h-1.9zM448.47 182.3h1.9v1.2h-1.9zM450.46 182.8h1.9v1.2h-1.9zM452.46 182.8h1.9v1.2h-1.9zM454.46 183.4h1.9v2.2h-1.9zM462.44 173.0h1.9v6.5h-1.9zM464.44 179.5h1.9v4.0h-1.9zM466.43 183.5h1.9v1.9h-1.9zM468.43 185.3h1.9v1.2h-1.9zM472.42 183.6h1.9v1.8h-1.9zM474.42 185.3h1.9v6.9h-1.9zM476.42 192.2h1.9v2.3h-1.9zM480.41 193.3h1.9v4.0h-1.9zM492.39 182.7h1.9v3.0h-1.9zM496.38 182.4h1.9v11.5h-1.9zM498.38 193.9h1.9v4.6h-1.9zM500.37 198.5h1.9v4.4h-1.9zM502.37 202.9h1.9v2.0h-1.9zM504.36 204.9h1.9v5.7h-1.9zM510.35 203.4h1.9v10.3h-1.9zM514.35 213.5h1.9v2.0h-1.9zM516.34 215.5h1.9v14.9h-1.9zM518.34 230.4h1.9v3.6h-1.9zM520.33 234.0h1.9v5.5h-1.9zM524.33 233.8h1.9v9.2h-1.9zM526.32 243.0h1.9v16.9h-1.9zM534.31 236.2h1.9v2.2h-1.9zM536.30 238.4h1.9v3.8h-1.9zM538.30 241.7h1.9v1.2h-1.9zM544.29 214.9h1.9v5.7h-1.9zM546.29 220.1h1.9v1.2h-1.9zM548.28 220.5h1.9v1.2h-1.9zM552.28 221.0h1.9v1.2h-1.9zM560.26 203.1h1.9v1.2h-1.9zM562.26 204.0h1.9v1.2h-1.9zM566.25 199.0h1.9v1.2h-1.9zM568.25 200.1h1.9v2.3h-1.9zM570.24 202.4h1.9v3.9h-1.9zM572.24 206.3h1.9v2.8h-1.9zM580.22 196.4h1.9v1.2h-1.9zM584.22 196.8h1.9v2.1h-1.9zM588.21 191.1h1.9v8.5h-1.9zM590.20 199.5h1.9v1.2h-1.9zM592.20 200.6h1.9v2.8h-1.9zM602.18 193.1h1.9v3.0h-1.9zM604.18 196.1h1.9v3.5h-1.9zM606.18 199.7h1.9v4.1h-1.9zM608.17 203.8h1.9v2.4h-1.9zM610.17 206.2h1.9v4.5h-1.9zM616.16 208.0h1.9v3.0h-1.9zM618.15 211.0h1.9v7.1h-1.9zM622.15 209.9h1.9v3.2h-1.9zM632.13 204.6h1.9v1.2h-1.9zM636.12 201.6h1.9v1.2h-1.9zM638.12 202.2h1.9v13.6h-1.9zM640.11 215.8h1.9v1.6h-1.9zM648.10 211.6h1.9v2.6h-1.9zM652.09 213.9h1.9v1.2h-1.9zM654.09 214.5h1.9v1.2h-1.9zM658.08 214.5h1.9v1.5h-1.9zM662.07 212.6h1.9v1.2h-1.9zM664.07 213.4h1.9v1.2h-1.9zM666.06 214.2h1.9v1.2h-1.9zM668.06 215.0h1.9v15.1h-1.9zM672.05 217.9h1.9v2.9h-1.9zM674.05 220.7h1.9v1.2h-1.9zM678.04 221.1h1.9v1.2h-1.9zM680.04 221.9h1.9v2.8h-1.9zM682.03 224.7h1.9v1.6h-1.9zM684.03 226.3h1.9v2.8h-1.9zM686.03 229.1h1.9v2.7h-1.9zM688.02 231.8h1.9v1.8h-1.9zM690.02 233.4h1.9v1.2h-1.9zM692.02 234.2h1.9v1.2h-1.9zM696.01 234.9h1.9v2.3h-1.9zM703.99 218.9h1.9v3.2h-1.9zM709.98 220.4h1.9v5.8h-1.9zM711.98 226.3h1.9v1.9h-1.9zM715.97 226.9h1.9v1.2h-1.9zM723.96 213.8h1.9v2.4h-1.9zM725.95 216.3h1.9v1.5h-1.9zM727.95 217.8h1.9v1.5h-1.9zM729.95 219.2h1.9v1.8h-1.9zM731.94 221.1h1.9v2.1h-1.9zM733.94 223.2h1.9v3.9h-1.9zM735.93 226.5h1.9v1.2h-1.9zM741.92 225.5h1.9v3.1h-1.9zM743.92 228.6h1.9v2.4h-1.9zM745.92 231.0h1.9v4.1h-1.9zM747.91 235.1h1.9v2.0h-1.9zM749.91 237.1h1.9v1.7h-1.9zM753.90 238.1h1.9v1.2h-1.9zM763.88 208.0h1.9v4.4h-1.9zM771.87 198.6h1.9v12.9h-1.9zM777.86 194.1h1.9v5.3h-1.9zM779.85 199.4h1.9v3.6h-1.9zM783.85 201.9h1.9v1.2h-1.9zM785.84 202.5h1.9v1.4h-1.9zM789.83 201.2h1.9v1.5h-1.9zM793.83 201.3h1.9v15.6h-1.9zM795.82 216.9h1.9v2.4h-1.9zM801.81 212.3h1.9v9.4h-1.9zM803.81 221.7h1.9v1.6h-1.9zM807.80 213.3h1.9v1.2h-1.9zM813.79 211.7h1.9v1.2h-1.9zM817.78 211.6h1.9v1.2h-1.9zM819.78 212.6h1.9v1.2h-1.9zM823.77 213.2h1.9v1.2h-1.9zM831.76 206.5h1.9v1.2h-1.9zM837.75 204.9h1.9v2.7h-1.9zM841.74 204.1h1.9v1.9h-1.9zM843.73 205.9h1.9v1.2h-1.9zM845.73 207.0h1.9v4.2h-1.9zM847.73 211.1h1.9v3.6h-1.9zM853.72 207.7h1.9v5.2h-1.9zM857.71 212.7h1.9v1.2h-1.9zM861.70 213.2h1.9v2.8h-1.9zM863.70 216.0h1.9v1.4h-1.9zM865.69 217.4h1.9v3.7h-1.9zM871.68 216.2h1.9v2.4h-1.9zM873.68 218.6h1.9v4.0h-1.9zM879.67 217.7h1.9v1.2h-1.9zM881.66 218.6h1.9v1.2h-1.9zM885.66 218.9h1.9v1.2h-1.9zM887.65 220.0h1.9v1.5h-1.9zM893.64 218.9h1.9v1.3h-1.9zM895.64 219.8h1.9v1.2h-1.9zM901.63 218.5h1.9v1.2h-1.9zM905.62 219.2h1.9v1.2h-1.9zM907.62 220.2h1.9v1.2h-1.9zM909.61 221.0h1.9v1.2h-1.9zM911.61 221.9h1.9v1.2h-1.9zM913.61 222.8h1.9v1.2h-1.9zM915.60 223.8h1.9v2.9h-1.9zM919.59 225.1h1.9v2.2h-1.9zM923.59 226.7h1.9v1.2h-1.9zM925.58 227.5h1.9v1.8h-1.9zM927.58 228.8h1.9v1.2h-1.9zM929.58 229.5h1.9v2.0h-1.9zM933.57 230.9h1.9v1.2h-1.9zM935.56 231.8h1.9v1.5h-1.9zM939.56 227.6h1.9v2.8h-1.9zM941.55 230.3h1.9v1.3h-1.9zM957.52 201.0h1.9v4.2h-1.9zM959.52 204.8h1.9v1.2h-1.9z" fill="#ea3f50" fill-opacity="0.9"/>
<line x1="5" x2="982" y1="129.2" y2="129.2" stroke="#3a68dc" stroke-width="1.15"/>
<line x1="5" x2="982" y1="185.2" y2="185.2" stroke="#3a68dc" stroke-width="1.15"/>
<line x1="5" x2="982" y1="237.5" y2="237.5" stroke="#3a68dc" stroke-width="1.15"/>
<line x1="5" x2="982" y1="291.6" y2="291.6" stroke="#3a68dc" stroke-width="1.15"/>
<rect x="5" y="430.6" width="975" height="78.8" fill="#7e57c2" fill-opacity="0.11"/>
<path d="M5 430.6H980M5 509.4H980" stroke="#aeb1ba" stroke-width="0.5" stroke-dasharray="2.2 1.6" fill="none"/>
<path d="M5 470.0H980" stroke="#b4b7c0" stroke-width="0.45" stroke-dasharray="2.2 1.6" stroke-opacity="0.6" fill="none"/>
<polygon points="5.0,430.6 5.0,501.2 8.3,496.7 11.3,506.8 13.8,512.5 16.3,496.7 18.1,481.6 20.1,494.7 23.9,486.6 27.2,495.4 29.7,481.6 32.2,467.0 34.7,466.0 37.2,468.5 39.0,467.8 41.5,474.6 44.8,471.5 47.8,469.5 49.8,482.9 52.3,489.2 55.3,491.2 58.3,491.7 60.3,476.6 62.9,469.0 65.4,468.5 67.9,479.1 71.7,479.6 73.7,468.5 76.7,467.0 80.0,456.0 83.0,460.2 85.5,464.0 88.0,440.9 91.8,447.7 95.0,423.8 97.6,422.0 100.6,427.5 103.6,422.5 106.1,416.2 108.1,391.1 109.9,384.3 111.9,384.3 113.1,398.6 114.4,413.7 116.2,410.0 117.7,430.1 118.9,432.6 120.7,430.1 122.5,433.8 125.0,431.8 128.0,432.6 130.1,445.1 132.6,447.7 135.6,449.4 138.1,447.7 140.1,440.1 142.1,425.0 143.9,433.8 145.1,427.5 147.2,437.6 149.7,440.1 151.4,445.1 153.2,435.8 155.7,436.3 158.2,437.6 160.2,442.6 162.7,440.1 165.3,443.9 167.8,455.2 170.3,467.8 171.5,472.8 173.6,466.5 175.3,460.2 176.6,469.0 178.3,479.1 180.3,474.1 182.4,472.8 184.1,465.3 186.6,459.0 189.1,460.2 191.7,454.5 193.4,464.0 195.4,469.0 197.9,470.3 200.5,469.0 202.5,461.5 204.2,451.4 206.0,442.6 208.0,435.8 210.0,443.9 211.8,433.3 213.5,438.9 215.0,445.1 216.8,456.5 218.1,464.0 219.8,456.5 221.3,457.7 223.1,454.0 225.1,462.8 227.6,462.8 230.6,461.5 233.7,460.2 236.2,457.7 237.7,448.9 239.4,441.4 241.2,443.9 242.0,447.7 243.8,453.4 246.3,448.9 248.8,441.4 251.3,435.1 253.8,430.1 255.6,450.2 258.1,452.7 260.6,451.4 262.6,459.0 264.4,469.0 265.9,470.3 267.7,477.8 270.2,475.3 272.2,479.1 273.9,489.2 275.7,482.9 277.2,486.6 279.0,484.6 280.7,481.6 282.7,482.1 284.8,486.6 286.5,486.1 288.3,491.7 290.3,498.0 292.8,498.7 295.3,496.7 297.3,484.1 299.1,481.1 300.8,485.4 302.4,494.2 304.1,506.8 305.4,519.3 307.4,513.0 309.1,515.6 310.9,513.8 312.9,506.8 314.9,490.4 316.7,501.7 318.5,510.5 320.5,513.0 321.7,513.8 323.5,492.9 325.0,496.7 326.8,492.9 328.5,489.2 330.5,484.1 332.5,481.6 334.3,476.6 336.1,474.1 338.1,477.8 340.1,485.4 341.8,486.6 343.8,487.9 345.6,485.4 347.6,480.4 349.4,487.9 351.1,496.7 353.2,489.2 355.2,481.6 356.9,474.1 358.7,469.0 360.2,467.8 362.0,476.6 363.3,481.6 365.0,470.3 367.0,468.5 369.6,469.0 371.3,479.1 373.1,475.3 375.1,470.3 377.1,469.0 378.9,462.8 380.1,471.5 381.4,479.1 383.1,469.0 385.1,466.5 387.2,465.3 388.9,467.8 390.7,471.0 392.7,472.1 395.2,471.0 397.2,469.5 399.0,459.0 400.7,455.2 402.7,451.4 404.5,441.4 405.5,437.6 407.0,447.7 408.3,452.7 410.3,455.2 412.8,457.0 414.8,457.7 416.3,448.9 417.6,442.6 419.1,450.2 420.9,450.9 422.9,450.2 424.9,447.7 426.1,445.9 427.9,450.2 429.7,460.2 431.7,470.3 433.4,476.6 435.4,475.3 437.4,477.8 439.2,481.6 441.0,487.9 443.0,489.2 445.0,491.2 446.7,504.2 448.0,508.0 449.8,506.2 451.8,508.0 453.5,507.3 455.5,509.3 457.3,499.2 459.3,486.6 461.3,477.8 463.1,484.1 464.9,492.9 466.9,494.2 468.9,498.0 470.6,494.2 472.6,491.7 474.4,495.4 476.2,500.5 478.2,505.5 479.9,504.2 481.4,510.5 483.2,505.5 485.0,490.5 487.0,484.1 488.8,480.4 490.8,475.3 492.6,479.1 494.3,472.8 495.6,469.5 497.1,475.3 498.9,486.6 500.6,499.2 502.1,505.5 503.9,506.2 505.1,510.5 506.9,499.2 508.4,498.0 510.2,495.4 511.9,499.2 513.9,503.0 515.7,508.0 517.2,516.8 519.0,527.0 520.7,527.0 522.7,511.8 524.5,514.3 526.5,526.0 527.8,516.8 529.3,508.0 531.0,508.0 532.8,501.7 534.6,491.7 536.6,490.4 538.6,492.9 540.3,481.6 542.1,469.0 543.4,464.0 544.9,469.5 546.6,466.5 548.4,466.0 550.4,467.8 552.9,469.5 554.2,459.0 555.9,450.9 557.9,450.2 560.0,449.7 561.7,450.9 563.5,447.7 565.5,444.4 567.5,445.1 569.3,445.9 571.0,453.9 572.5,461.5 574.3,462.8 576.1,456.5 578.1,448.9 580.1,445.1 581.8,444.4 583.6,446.4 585.1,448.9 586.4,443.9 587.6,440.1 589.4,446.4 590.6,456.5 592.4,462.8 594.4,466.5 596.2,468.5 597.7,469.0 599.4,461.5 601.2,450.9 603.0,450.2 604.5,459.0 606.3,470.3 608.0,472.8 609.6,479.1 611.3,484.6 613.8,484.1 615.8,485.4 617.6,486.6 619.4,492.9 620.9,484.1 622.1,480.4 623.9,486.6 625.6,479.1 627.7,472.8 629.7,467.8 631.4,464.0 633.2,460.2 635.2,457.7 637.2,458.5 638.2,476.6 639.5,487.9 641.5,488.7 643.5,486.6 645.3,481.6 647.0,477.8 648.5,482.9 650.3,476.6 652.3,476.1 654.1,479.1 655.8,477.8 657.8,480.4 659.8,479.1 661.6,475.3 662.9,472.8 664.6,477.8 666.1,480.4 667.9,481.6 669.2,496.7 669.9,508.0 671.2,484.1 672.9,482.9 674.9,484.1 676.7,484.6 678.5,485.4 680.5,487.9 682.5,492.9 684.2,496.7 686.0,500.5 688.0,504.2 689.8,506.2 691.8,508.0 693.5,505.5 695.5,506.7 696.8,506.7 698.1,486.6 699.3,474.1 700.6,466.5 702.3,461.5 704.3,460.2 706.1,461.5 708.1,461.0 709.6,469.0 711.1,479.1 713.2,481.1 714.9,482.9 716.4,484.1 718.2,475.3 719.9,464.0 721.5,453.5 723.0,444.4 724.3,454.0 725.5,456.5 727.5,456.0 729.6,461.5 731.3,467.8 733.1,470.3 734.6,477.8 736.3,481.6 738.1,482.9 740.1,481.6 742.1,484.1 743.9,487.9 745.6,492.9 747.2,499.2 748.9,505.5 750.7,508.0 752.7,508.8 754.7,509.3 756.5,506.7 757.7,499.2 759.0,481.6 760.2,459.0 761.5,441.4 762.7,435.1 764.5,436.3 766.0,432.6 767.8,425.0 769.0,422.0 770.8,427.5 772.0,437.6 772.8,443.9 774.1,437.6 775.8,428.8 777.1,425.0 778.3,433.8 779.8,442.6 781.6,448.9 782.9,445.1 784.6,450.2 786.6,451.4 788.4,449.4 790.4,448.9 792.4,450.2 793.7,464.0 794.9,476.6 796.2,480.4 797.9,477.8 799.7,471.5 801.0,470.3 802.2,479.1 803.5,484.1 805.0,479.1 806.8,478.6 808.5,471.5 810.5,469.5 813.0,470.3 815.5,470.3 818.1,471.0 820.6,469.0 823.1,470.3 825.6,467.8 827.6,464.0 829.4,460.2 831.1,454.0 832.4,452.7 833.7,459.0 834.9,462.8 836.2,451.4 837.4,449.4 838.9,452.7 840.2,457.7 841.4,452.7 842.6,447.7 843.8,454.0 845.0,461.5 846.3,462.8 847.5,472.8 848.8,480.4 850.6,475.3 852.1,467.8 853.1,465.3 854.6,469.0 856.3,472.8 858.1,474.1 860.1,471.5 862.1,474.1 863.9,480.4 865.1,486.6 866.4,494.2 868.2,494.7 869.7,487.9 870.9,481.6 872.7,480.4 873.9,491.7 875.2,496.2 877.0,486.6 878.5,476.6 880.2,476.1 882.0,479.1 884.0,480.4 885.8,481.1 887.8,477.8 889.5,484.1 891.0,487.9 892.8,479.6 894.8,479.1 896.6,479.1 898.6,479.6 900.3,478.6 902.1,471.0 903.6,472.8 905.4,474.1 907.1,477.8 909.1,478.6 910.9,480.4 912.4,485.4 913.7,482.9 914.9,486.6 916.2,496.7 917.9,494.2 919.7,495.4 921.7,492.9 923.5,495.4 925.0,499.2 926.8,500.5 928.5,504.2 930.0,506.7 931.8,510.5 933.0,509.3 934.3,501.7 935.5,508.0 936.3,509.3 937.6,494.2 938.6,483.6 939.8,489.2 941.1,492.9 942.6,489.2 944.4,481.6 946.1,477.8 947.6,475.3 948.9,470.3 950.1,459.0 951.4,441.4 952.7,428.8 954.4,422.5 956.2,415.7 957.7,423.8 958.9,430.1 960.7,433.3 960.7,430.6" fill="url(#gob)" clip-path="url(#cob)"/>
<polygon points="5.0,509.4 5.0,501.2 8.3,496.7 11.3,506.8 13.8,512.5 16.3,496.7 18.1,481.6 20.1,494.7 23.9,486.6 27.2,495.4 29.7,481.6 32.2,467.0 34.7,466.0 37.2,468.5 39.0,467.8 41.5,474.6 44.8,471.5 47.8,469.5 49.8,482.9 52.3,489.2 55.3,491.2 58.3,491.7 60.3,476.6 62.9,469.0 65.4,468.5 67.9,479.1 71.7,479.6 73.7,468.5 76.7,467.0 80.0,456.0 83.0,460.2 85.5,464.0 88.0,440.9 91.8,447.7 95.0,423.8 97.6,422.0 100.6,427.5 103.6,422.5 106.1,416.2 108.1,391.1 109.9,384.3 111.9,384.3 113.1,398.6 114.4,413.7 116.2,410.0 117.7,430.1 118.9,432.6 120.7,430.1 122.5,433.8 125.0,431.8 128.0,432.6 130.1,445.1 132.6,447.7 135.6,449.4 138.1,447.7 140.1,440.1 142.1,425.0 143.9,433.8 145.1,427.5 147.2,437.6 149.7,440.1 151.4,445.1 153.2,435.8 155.7,436.3 158.2,437.6 160.2,442.6 162.7,440.1 165.3,443.9 167.8,455.2 170.3,467.8 171.5,472.8 173.6,466.5 175.3,460.2 176.6,469.0 178.3,479.1 180.3,474.1 182.4,472.8 184.1,465.3 186.6,459.0 189.1,460.2 191.7,454.5 193.4,464.0 195.4,469.0 197.9,470.3 200.5,469.0 202.5,461.5 204.2,451.4 206.0,442.6 208.0,435.8 210.0,443.9 211.8,433.3 213.5,438.9 215.0,445.1 216.8,456.5 218.1,464.0 219.8,456.5 221.3,457.7 223.1,454.0 225.1,462.8 227.6,462.8 230.6,461.5 233.7,460.2 236.2,457.7 237.7,448.9 239.4,441.4 241.2,443.9 242.0,447.7 243.8,453.4 246.3,448.9 248.8,441.4 251.3,435.1 253.8,430.1 255.6,450.2 258.1,452.7 260.6,451.4 262.6,459.0 264.4,469.0 265.9,470.3 267.7,477.8 270.2,475.3 272.2,479.1 273.9,489.2 275.7,482.9 277.2,486.6 279.0,484.6 280.7,481.6 282.7,482.1 284.8,486.6 286.5,486.1 288.3,491.7 290.3,498.0 292.8,498.7 295.3,496.7 297.3,484.1 299.1,481.1 300.8,485.4 302.4,494.2 304.1,506.8 305.4,519.3 307.4,513.0 309.1,515.6 310.9,513.8 312.9,506.8 314.9,490.4 316.7,501.7 318.5,510.5 320.5,513.0 321.7,513.8 323.5,492.9 325.0,496.7 326.8,492.9 328.5,489.2 330.5,484.1 332.5,481.6 334.3,476.6 336.1,474.1 338.1,477.8 340.1,485.4 341.8,486.6 343.8,487.9 345.6,485.4 347.6,480.4 349.4,487.9 351.1,496.7 353.2,489.2 355.2,481.6 356.9,474.1 358.7,469.0 360.2,467.8 362.0,476.6 363.3,481.6 365.0,470.3 367.0,468.5 369.6,469.0 371.3,479.1 373.1,475.3 375.1,470.3 377.1,469.0 378.9,462.8 380.1,471.5 381.4,479.1 383.1,469.0 385.1,466.5 387.2,465.3 388.9,467.8 390.7,471.0 392.7,472.1 395.2,471.0 397.2,469.5 399.0,459.0 400.7,455.2 402.7,451.4 404.5,441.4 405.5,437.6 407.0,447.7 408.3,452.7 410.3,455.2 412.8,457.0 414.8,457.7 416.3,448.9 417.6,442.6 419.1,450.2 420.9,450.9 422.9,450.2 424.9,447.7 426.1,445.9 427.9,450.2 429.7,460.2 431.7,470.3 433.4,476.6 435.4,475.3 437.4,477.8 439.2,481.6 441.0,487.9 443.0,489.2 445.0,491.2 446.7,504.2 448.0,508.0 449.8,506.2 451.8,508.0 453.5,507.3 455.5,509.3 457.3,499.2 459.3,486.6 461.3,477.8 463.1,484.1 464.9,492.9 466.9,494.2 468.9,498.0 470.6,494.2 472.6,491.7 474.4,495.4 476.2,500.5 478.2,505.5 479.9,504.2 481.4,510.5 483.2,505.5 485.0,490.5 487.0,484.1 488.8,480.4 490.8,475.3 492.6,479.1 494.3,472.8 495.6,469.5 497.1,475.3 498.9,486.6 500.6,499.2 502.1,505.5 503.9,506.2 505.1,510.5 506.9,499.2 508.4,498.0 510.2,495.4 511.9,499.2 513.9,503.0 515.7,508.0 517.2,516.8 519.0,527.0 520.7,527.0 522.7,511.8 524.5,514.3 526.5,526.0 527.8,516.8 529.3,508.0 531.0,508.0 532.8,501.7 534.6,491.7 536.6,490.4 538.6,492.9 540.3,481.6 542.1,469.0 543.4,464.0 544.9,469.5 546.6,466.5 548.4,466.0 550.4,467.8 552.9,469.5 554.2,459.0 555.9,450.9 557.9,450.2 560.0,449.7 561.7,450.9 563.5,447.7 565.5,444.4 567.5,445.1 569.3,445.9 571.0,453.9 572.5,461.5 574.3,462.8 576.1,456.5 578.1,448.9 580.1,445.1 581.8,444.4 583.6,446.4 585.1,448.9 586.4,443.9 587.6,440.1 589.4,446.4 590.6,456.5 592.4,462.8 594.4,466.5 596.2,468.5 597.7,469.0 599.4,461.5 601.2,450.9 603.0,450.2 604.5,459.0 606.3,470.3 608.0,472.8 609.6,479.1 611.3,484.6 613.8,484.1 615.8,485.4 617.6,486.6 619.4,492.9 620.9,484.1 622.1,480.4 623.9,486.6 625.6,479.1 627.7,472.8 629.7,467.8 631.4,464.0 633.2,460.2 635.2,457.7 637.2,458.5 638.2,476.6 639.5,487.9 641.5,488.7 643.5,486.6 645.3,481.6 647.0,477.8 648.5,482.9 650.3,476.6 652.3,476.1 654.1,479.1 655.8,477.8 657.8,480.4 659.8,479.1 661.6,475.3 662.9,472.8 664.6,477.8 666.1,480.4 667.9,481.6 669.2,496.7 669.9,508.0 671.2,484.1 672.9,482.9 674.9,484.1 676.7,484.6 678.5,485.4 680.5,487.9 682.5,492.9 684.2,496.7 686.0,500.5 688.0,504.2 689.8,506.2 691.8,508.0 693.5,505.5 695.5,506.7 696.8,506.7 698.1,486.6 699.3,474.1 700.6,466.5 702.3,461.5 704.3,460.2 706.1,461.5 708.1,461.0 709.6,469.0 711.1,479.1 713.2,481.1 714.9,482.9 716.4,484.1 718.2,475.3 719.9,464.0 721.5,453.5 723.0,444.4 724.3,454.0 725.5,456.5 727.5,456.0 729.6,461.5 731.3,467.8 733.1,470.3 734.6,477.8 736.3,481.6 738.1,482.9 740.1,481.6 742.1,484.1 743.9,487.9 745.6,492.9 747.2,499.2 748.9,505.5 750.7,508.0 752.7,508.8 754.7,509.3 756.5,506.7 757.7,499.2 759.0,481.6 760.2,459.0 761.5,441.4 762.7,435.1 764.5,436.3 766.0,432.6 767.8,425.0 769.0,422.0 770.8,427.5 772.0,437.6 772.8,443.9 774.1,437.6 775.8,428.8 777.1,425.0 778.3,433.8 779.8,442.6 781.6,448.9 782.9,445.1 784.6,450.2 786.6,451.4 788.4,449.4 790.4,448.9 792.4,450.2 793.7,464.0 794.9,476.6 796.2,480.4 797.9,477.8 799.7,471.5 801.0,470.3 802.2,479.1 803.5,484.1 805.0,479.1 806.8,478.6 808.5,471.5 810.5,469.5 813.0,470.3 815.5,470.3 818.1,471.0 820.6,469.0 823.1,470.3 825.6,467.8 827.6,464.0 829.4,460.2 831.1,454.0 832.4,452.7 833.7,459.0 834.9,462.8 836.2,451.4 837.4,449.4 838.9,452.7 840.2,457.7 841.4,452.7 842.6,447.7 843.8,454.0 845.0,461.5 846.3,462.8 847.5,472.8 848.8,480.4 850.6,475.3 852.1,467.8 853.1,465.3 854.6,469.0 856.3,472.8 858.1,474.1 860.1,471.5 862.1,474.1 863.9,480.4 865.1,486.6 866.4,494.2 868.2,494.7 869.7,487.9 870.9,481.6 872.7,480.4 873.9,491.7 875.2,496.2 877.0,486.6 878.5,476.6 880.2,476.1 882.0,479.1 884.0,480.4 885.8,481.1 887.8,477.8 889.5,484.1 891.0,487.9 892.8,479.6 894.8,479.1 896.6,479.1 898.6,479.6 900.3,478.6 902.1,471.0 903.6,472.8 905.4,474.1 907.1,477.8 909.1,478.6 910.9,480.4 912.4,485.4 913.7,482.9 914.9,486.6 916.2,496.7 917.9,494.2 919.7,495.4 921.7,492.9 923.5,495.4 925.0,499.2 926.8,500.5 928.5,504.2 930.0,506.7 931.8,510.5 933.0,509.3 934.3,501.7 935.5,508.0 936.3,509.3 937.6,494.2 938.6,483.6 939.8,489.2 941.1,492.9 942.6,489.2 944.4,481.6 946.1,477.8 947.6,475.3 948.9,470.3 950.1,459.0 951.4,441.4 952.7,428.8 954.4,422.5 956.2,415.7 957.7,423.8 958.9,430.1 960.7,433.3 960.7,509.4" fill="url(#gos)" clip-path="url(#cos)"/>
<polyline points="5.0,501.7 10.0,499.2 15.1,498.0 20.1,497.4 25.1,497.4 30.2,495.4 35.2,487.9 40.2,480.4 45.3,477.1 50.3,476.6 55.3,477.1 60.3,477.3 65.4,477.8 70.4,479.1 75.4,477.8 80.5,474.1 85.5,469.0 90.5,461.5 95.5,452.7 100.6,443.9 105.6,435.1 110.6,425.0 115.7,417.5 120.7,415.0 123.8,415.7 127.5,417.5 131.3,421.3 135.1,426.3 138.9,431.3 142.6,433.3 147.7,434.3 152.7,435.8 157.7,436.8 162.7,438.4 167.8,441.4 171.5,445.1 175.3,450.2 179.1,454.5 182.9,457.7 186.6,460.2 190.4,464.0 194.2,467.8 197.9,469.0 201.7,466.5 205.5,462.8 209.3,457.7 213.0,454.0 216.8,451.4 220.6,450.9 225.6,450.7 230.6,451.4 235.7,451.9 240.7,454.0 243.8,456.0 247.5,454.0 252.6,448.9 257.6,446.4 262.6,446.9 266.4,450.2 270.2,456.5 273.9,464.0 277.7,470.3 281.5,475.3 285.3,480.4 290.3,484.1 295.3,486.1 300.3,487.9 305.4,491.7 310.4,496.7 315.4,500.5 320.5,503.0 325.5,504.2 329.3,503.7 333.0,500.5 336.8,496.2 340.6,492.2 345.6,489.2 350.6,487.9 355.7,486.1 360.7,482.9 363.8,481.6 367.5,479.6 372.6,476.6 377.6,474.1 382.6,472.1 387.7,471.0 392.7,471.0 397.7,469.0 402.7,464.0 407.8,460.2 412.8,457.7 417.8,454.5 422.9,451.4 426.6,449.4 430.4,450.9 434.2,454.5 437.9,459.0 441.7,464.0 445.5,470.3 449.3,477.8 453.0,485.4 456.8,490.4 460.6,492.9 465.6,494.2 470.6,495.4 475.7,496.7 480.7,496.5 485.0,494.2 490.1,492.2 495.1,491.2 500.1,490.4 505.1,490.4 510.2,490.4 513.9,491.7 517.7,496.7 521.5,503.0 525.3,507.3 529.0,509.3 532.8,508.8 536.6,506.7 540.3,504.2 544.1,499.2 547.9,492.9 551.7,485.4 555.4,477.8 559.2,471.5 563.0,465.3 566.7,459.0 570.5,456.0 575.5,454.0 580.6,451.4 585.6,449.4 590.6,449.4 595.7,451.4 600.0,452.7 603.8,455.2 607.5,459.0 611.3,464.0 615.1,469.0 618.9,472.8 622.6,475.3 626.4,477.1 630.2,478.6 635.2,478.6 640.2,477.1 645.3,476.1 650.3,476.1 655.3,477.8 660.3,479.6 665.4,480.4 670.4,481.1 675.4,482.9 680.5,485.4 685.5,489.2 689.3,492.2 693.0,494.2 696.8,494.7 700.6,492.9 705.6,489.2 710.6,485.4 714.4,482.9 718.2,477.8 721.9,471.5 725.0,467.0 728.8,465.3 732.6,466.5 737.6,469.0 742.6,471.5 746.4,474.6 750.2,480.4 753.9,486.6 757.7,492.2 760.2,493.7 763.2,489.2 766.5,480.4 770.3,472.8 774.1,464.0 777.8,454.0 781.6,445.1 785.4,439.4 789.1,438.4 792.9,440.9 796.7,447.7 800.5,455.2 804.2,461.5 808.0,466.5 811.8,469.5 815.5,472.1 819.3,473.6 823.1,473.6 826.9,472.1 830.6,469.0 834.4,466.0 838.2,463.5 842.0,462.0 845.7,462.0 847.5,461.5 852.6,462.0 857.6,463.5 862.6,467.0 866.4,471.5 870.2,476.6 873.9,480.4 877.7,482.9 881.5,484.6 885.3,484.6 889.0,483.6 892.8,482.1 896.6,481.1 900.3,479.6 904.1,477.8 907.9,477.8 911.7,479.6 915.4,481.6 919.2,483.6 923.0,486.1 926.8,489.2 930.5,492.2 934.3,495.4 938.1,498.0 941.8,498.7 945.6,497.2 949.4,492.9 953.1,485.4 956.2,476.6 958.7,467.8 960.2,464.0" fill="none" stroke="#f3e655" stroke-width="0.7" stroke-opacity="0.85" stroke-linejoin="round"/>
<polyline points="5.0,501.2 8.3,496.7 11.3,506.8 13.8,512.5 16.3,496.7 18.1,481.6 20.1,494.7 23.9,486.6 27.2,495.4 29.7,481.6 32.2,467.0 34.7,466.0 37.2,468.5 39.0,467.8 41.5,474.6 44.8,471.5 47.8,469.5 49.8,482.9 52.3,489.2 55.3,491.2 58.3,491.7 60.3,476.6 62.9,469.0 65.4,468.5 67.9,479.1 71.7,479.6 73.7,468.5 76.7,467.0 80.0,456.0 83.0,460.2 85.5,464.0 88.0,440.9 91.8,447.7 95.0,423.8 97.6,422.0 100.6,427.5 103.6,422.5 106.1,416.2 108.1,391.1 109.9,384.3 111.9,384.3 113.1,398.6 114.4,413.7 116.2,410.0 117.7,430.1 118.9,432.6 120.7,430.1 122.5,433.8 125.0,431.8 128.0,432.6 130.1,445.1 132.6,447.7 135.6,449.4 138.1,447.7 140.1,440.1 142.1,425.0 143.9,433.8 145.1,427.5 147.2,437.6 149.7,440.1 151.4,445.1 153.2,435.8 155.7,436.3 158.2,437.6 160.2,442.6 162.7,440.1 165.3,443.9 167.8,455.2 170.3,467.8 171.5,472.8 173.6,466.5 175.3,460.2 176.6,469.0 178.3,479.1 180.3,474.1 182.4,472.8 184.1,465.3 186.6,459.0 189.1,460.2 191.7,454.5 193.4,464.0 195.4,469.0 197.9,470.3 200.5,469.0 202.5,461.5 204.2,451.4 206.0,442.6 208.0,435.8 210.0,443.9 211.8,433.3 213.5,438.9 215.0,445.1 216.8,456.5 218.1,464.0 219.8,456.5 221.3,457.7 223.1,454.0 225.1,462.8 227.6,462.8 230.6,461.5 233.7,460.2 236.2,457.7 237.7,448.9 239.4,441.4 241.2,443.9 242.0,447.7 243.8,453.4 246.3,448.9 248.8,441.4 251.3,435.1 253.8,430.1 255.6,450.2 258.1,452.7 260.6,451.4 262.6,459.0 264.4,469.0 265.9,470.3 267.7,477.8 270.2,475.3 272.2,479.1 273.9,489.2 275.7,482.9 277.2,486.6 279.0,484.6 280.7,481.6 282.7,482.1 284.8,486.6 286.5,486.1 288.3,491.7 290.3,498.0 292.8,498.7 295.3,496.7 297.3,484.1 299.1,481.1 300.8,485.4 302.4,494.2 304.1,506.8 305.4,519.3 307.4,513.0 309.1,515.6 310.9,513.8 312.9,506.8 314.9,490.4 316.7,501.7 318.5,510.5 320.5,513.0 321.7,513.8 323.5,492.9 325.0,496.7 326.8,492.9 328.5,489.2 330.5,484.1 332.5,481.6 334.3,476.6 336.1,474.1 338.1,477.8 340.1,485.4 341.8,486.6 343.8,487.9 345.6,485.4 347.6,480.4 349.4,487.9 351.1,496.7 353.2,489.2 355.2,481.6 356.9,474.1 358.7,469.0 360.2,467.8 362.0,476.6 363.3,481.6 365.0,470.3 367.0,468.5 369.6,469.0 371.3,479.1 373.1,475.3 375.1,470.3 377.1,469.0 378.9,462.8 380.1,471.5 381.4,479.1 383.1,469.0 385.1,466.5 387.2,465.3 388.9,467.8 390.7,471.0 392.7,472.1 395.2,471.0 397.2,469.5 399.0,459.0 400.7,455.2 402.7,451.4 404.5,441.4 405.5,437.6 407.0,447.7 408.3,452.7 410.3,455.2 412.8,457.0 414.8,457.7 416.3,448.9 417.6,442.6 419.1,450.2 420.9,450.9 422.9,450.2 424.9,447.7 426.1,445.9 427.9,450.2 429.7,460.2 431.7,470.3 433.4,476.6 435.4,475.3 437.4,477.8 439.2,481.6 441.0,487.9 443.0,489.2 445.0,491.2 446.7,504.2 448.0,508.0 449.8,506.2 451.8,508.0 453.5,507.3 455.5,509.3 457.3,499.2 459.3,486.6 461.3,477.8 463.1,484.1 464.9,492.9 466.9,494.2 468.9,498.0 470.6,494.2 472.6,491.7 474.4,495.4 476.2,500.5 478.2,505.5 479.9,504.2 481.4,510.5 483.2,505.5 485.0,490.5 487.0,484.1 488.8,480.4 490.8,475.3 492.6,479.1 494.3,472.8 495.6,469.5 497.1,475.3 498.9,486.6 500.6,499.2 502.1,505.5 503.9,506.2 505.1,510.5 506.9,499.2 508.4,498.0 510.2,495.4 511.9,499.2 513.9,503.0 515.7,508.0 517.2,516.8 519.0,527.0 520.7,527.0 522.7,511.8 524.5,514.3 526.5,526.0 527.8,516.8 529.3,508.0 531.0,508.0 532.8,501.7 534.6,491.7 536.6,490.4 538.6,492.9 540.3,481.6 542.1,469.0 543.4,464.0 544.9,469.5 546.6,466.5 548.4,466.0 550.4,467.8 552.9,469.5 554.2,459.0 555.9,450.9 557.9,450.2 560.0,449.7 561.7,450.9 563.5,447.7 565.5,444.4 567.5,445.1 569.3,445.9 571.0,453.9 572.5,461.5 574.3,462.8 576.1,456.5 578.1,448.9 580.1,445.1 581.8,444.4 583.6,446.4 585.1,448.9 586.4,443.9 587.6,440.1 589.4,446.4 590.6,456.5 592.4,462.8 594.4,466.5 596.2,468.5 597.7,469.0 599.4,461.5 601.2,450.9 603.0,450.2 604.5,459.0 606.3,470.3 608.0,472.8 609.6,479.1 611.3,484.6 613.8,484.1 615.8,485.4 617.6,486.6 619.4,492.9 620.9,484.1 622.1,480.4 623.9,486.6 625.6,479.1 627.7,472.8 629.7,467.8 631.4,464.0 633.2,460.2 635.2,457.7 637.2,458.5 638.2,476.6 639.5,487.9 641.5,488.7 643.5,486.6 645.3,481.6 647.0,477.8 648.5,482.9 650.3,476.6 652.3,476.1 654.1,479.1 655.8,477.8 657.8,480.4 659.8,479.1 661.6,475.3 662.9,472.8 664.6,477.8 666.1,480.4 667.9,481.6 669.2,496.7 669.9,508.0 671.2,484.1 672.9,482.9 674.9,484.1 676.7,484.6 678.5,485.4 680.5,487.9 682.5,492.9 684.2,496.7 686.0,500.5 688.0,504.2 689.8,506.2 691.8,508.0 693.5,505.5 695.5,506.7 696.8,506.7 698.1,486.6 699.3,474.1 700.6,466.5 702.3,461.5 704.3,460.2 706.1,461.5 708.1,461.0 709.6,469.0 711.1,479.1 713.2,481.1 714.9,482.9 716.4,484.1 718.2,475.3 719.9,464.0 721.5,453.5 723.0,444.4 724.3,454.0 725.5,456.5 727.5,456.0 729.6,461.5 731.3,467.8 733.1,470.3 734.6,477.8 736.3,481.6 738.1,482.9 740.1,481.6 742.1,484.1 743.9,487.9 745.6,492.9 747.2,499.2 748.9,505.5 750.7,508.0 752.7,508.8 754.7,509.3 756.5,506.7 757.7,499.2 759.0,481.6 760.2,459.0 761.5,441.4 762.7,435.1 764.5,436.3 766.0,432.6 767.8,425.0 769.0,422.0 770.8,427.5 772.0,437.6 772.8,443.9 774.1,437.6 775.8,428.8 777.1,425.0 778.3,433.8 779.8,442.6 781.6,448.9 782.9,445.1 784.6,450.2 786.6,451.4 788.4,449.4 790.4,448.9 792.4,450.2 793.7,464.0 794.9,476.6 796.2,480.4 797.9,477.8 799.7,471.5 801.0,470.3 802.2,479.1 803.5,484.1 805.0,479.1 806.8,478.6 808.5,471.5 810.5,469.5 813.0,470.3 815.5,470.3 818.1,471.0 820.6,469.0 823.1,470.3 825.6,467.8 827.6,464.0 829.4,460.2 831.1,454.0 832.4,452.7 833.7,459.0 834.9,462.8 836.2,451.4 837.4,449.4 838.9,452.7 840.2,457.7 841.4,452.7 842.6,447.7 843.8,454.0 845.0,461.5 846.3,462.8 847.5,472.8 848.8,480.4 850.6,475.3 852.1,467.8 853.1,465.3 854.6,469.0 856.3,472.8 858.1,474.1 860.1,471.5 862.1,474.1 863.9,480.4 865.1,486.6 866.4,494.2 868.2,494.7 869.7,487.9 870.9,481.6 872.7,480.4 873.9,491.7 875.2,496.2 877.0,486.6 878.5,476.6 880.2,476.1 882.0,479.1 884.0,480.4 885.8,481.1 887.8,477.8 889.5,484.1 891.0,487.9 892.8,479.6 894.8,479.1 896.6,479.1 898.6,479.6 900.3,478.6 902.1,471.0 903.6,472.8 905.4,474.1 907.1,477.8 909.1,478.6 910.9,480.4 912.4,485.4 913.7,482.9 914.9,486.6 916.2,496.7 917.9,494.2 919.7,495.4 921.7,492.9 923.5,495.4 925.0,499.2 926.8,500.5 928.5,504.2 930.0,506.7 931.8,510.5 933.0,509.3 934.3,501.7 935.5,508.0 936.3,509.3 937.6,494.2 938.6,483.6 939.8,489.2 941.1,492.9 942.6,489.2 944.4,481.6 946.1,477.8 947.6,475.3 948.9,470.3 950.1,459.0 951.4,441.4 952.7,428.8 954.4,422.5 956.2,415.7 957.7,423.8 958.9,430.1 960.7,433.3" fill="none" stroke="#6f4cc2" stroke-width="0.7" stroke-linejoin="round"/>
</g>
<text x="985" y="20.8" font-size="5.4" fill="#2a2e39" textLength="28.5" lengthAdjust="spacingAndGlyphs">1.60000000</text>
<text x="985" y="37.5" font-size="5.4" fill="#2a2e39" textLength="28.5" lengthAdjust="spacingAndGlyphs">1.55000000</text>
<text x="985" y="54.1" font-size="5.4" fill="#2a2e39" textLength="28.5" lengthAdjust="spacingAndGlyphs">1.50000000</text>
<text x="985" y="70.8" font-size="5.4" fill="#2a2e39" textLength="28.5" lengthAdjust="spacingAndGlyphs">1.45000000</text>
<text x="985" y="87.4" font-size="5.4" fill="#2a2e39" textLength="28.5" lengthAdjust="spacingAndGlyphs">1.40000000</text>
<text x="985" y="104.0" font-size="5.4" fill="#2a2e39" textLength="28.5" lengthAdjust="spacingAndGlyphs">1.35000000</text>
<text x="985" y="120.7" font-size="5.4" fill="#2a2e39" textLength="28.5" lengthAdjust="spacingAndGlyphs">1.30000000</text>
<text x="985" y="137.3" font-size="5.4" fill="#2a2e39" textLength="28.5" lengthAdjust="spacingAndGlyphs">1.25000000</text>
<text x="985" y="154.0" font-size="5.4" fill="#2a2e39" textLength="28.5" lengthAdjust="spacingAndGlyphs">1.20000000</text>
<text x="985" y="170.6" font-size="5.4" fill="#2a2e39" textLength="28.5" lengthAdjust="spacingAndGlyphs">1.15000000</text>
<text x="985" y="187.2" font-size="5.4" fill="#2a2e39" textLength="28.5" lengthAdjust="spacingAndGlyphs">1.10000000</text>
<text x="985" y="203.9" font-size="5.4" fill="#2a2e39" textLength="28.5" lengthAdjust="spacingAndGlyphs">1.05000000</text>
<text x="985" y="220.5" font-size="5.4" fill="#2a2e39" textLength="28.5" lengthAdjust="spacingAndGlyphs">1.00000000</text>
<text x="985" y="237.2" font-size="5.4" fill="#2a2e39" textLength="28.5" lengthAdjust="spacingAndGlyphs">0.95000000</text>
<text x="985" y="253.8" font-size="5.4" fill="#2a2e39" textLength="28.5" lengthAdjust="spacingAndGlyphs">0.90000000</text>
<text x="985" y="270.4" font-size="5.4" fill="#2a2e39" textLength="28.5" lengthAdjust="spacingAndGlyphs">0.85000000</text>
<text x="985" y="287.1" font-size="5.4" fill="#2a2e39" textLength="28.5" lengthAdjust="spacingAndGlyphs">0.80000000</text>
<text x="985" y="303.7" font-size="5.4" fill="#2a2e39" textLength="28.5" lengthAdjust="spacingAndGlyphs">0.75000000</text>
<text x="985" y="320.4" font-size="5.4" fill="#2a2e39" textLength="28.5" lengthAdjust="spacingAndGlyphs">0.70000000</text>
<text x="985" y="337.0" font-size="5.4" fill="#2a2e39" textLength="28.5" lengthAdjust="spacingAndGlyphs">0.65000000</text>
<text x="985" y="353.6" font-size="5.4" fill="#2a2e39" textLength="28.5" lengthAdjust="spacingAndGlyphs">0.60000000</text>
<text x="985" y="373.4" font-size="5.4" fill="#2a2e39" textLength="16.6" lengthAdjust="spacingAndGlyphs">100.00</text>
<text x="985" y="393.1" font-size="5.4" fill="#2a2e39" textLength="13.8" lengthAdjust="spacingAndGlyphs">90.00</text>
<text x="985" y="412.8" font-size="5.4" fill="#2a2e39" textLength="13.8" lengthAdjust="spacingAndGlyphs">80.00</text>
<text x="985" y="452.2" font-size="5.4" fill="#2a2e39" textLength="13.8" lengthAdjust="spacingAndGlyphs">60.00</text>
<text x="985" y="471.9" font-size="5.4" fill="#2a2e39" textLength="13.8" lengthAdjust="spacingAndGlyphs">50.00</text>
<text x="985" y="491.6" font-size="5.4" fill="#2a2e39" textLength="13.8" lengthAdjust="spacingAndGlyphs">40.00</text>
<text x="985" y="511.3" font-size="5.4" fill="#2a2e39" textLength="13.8" lengthAdjust="spacingAndGlyphs">30.00</text>
<text x="985" y="531.1" font-size="5.4" fill="#2a2e39" textLength="13.8" lengthAdjust="spacingAndGlyphs">20.00</text>
<rect x="981.5" y="125.4" width="35.3" height="7.9" fill="#2962ff"/>
<text x="985" y="131.4" font-size="5.4" fill="#ffffff" textLength="28.5" lengthAdjust="spacingAndGlyphs" stroke="#ffffff" stroke-width="0.18">1.26864330</text>
<rect x="981.5" y="181.4" width="35.3" height="7.9" fill="#2962ff"/>
<text x="985" y="187.4" font-size="5.4" fill="#ffffff" textLength="28.5" lengthAdjust="spacingAndGlyphs" stroke="#ffffff" stroke-width="0.18">1.10026200</text>
<rect x="981.5" y="233.7" width="35.3" height="7.9" fill="#2962ff"/>
<text x="985" y="239.7" font-size="5.4" fill="#ffffff" textLength="28.5" lengthAdjust="spacingAndGlyphs" stroke="#ffffff" stroke-width="0.18">0.94320045</text>
<rect x="981.5" y="287.8" width="35.3" height="7.9" fill="#2962ff"/>
<text x="985" y="293.8" font-size="5.4" fill="#ffffff" textLength="28.5" lengthAdjust="spacingAndGlyphs" stroke="#ffffff" stroke-width="0.18">0.78047903</text>
<rect x="981.5" y="194.2" width="35.3" height="22.2" fill="#f23645"/>
<text x="985" y="200.6" font-size="5.4" fill="#ffffff" textLength="28.5" lengthAdjust="spacingAndGlyphs" stroke="#ffffff" stroke-width="0.18">1.04800876</text>
<text x="985" y="208.1" font-size="5.4" fill="#ffffff" textLength="28.5" lengthAdjust="spacingAndGlyphs" stroke="#ffffff" stroke-width="0.18">1.03780573</text>
<text x="985" y="214.8" font-size="5.4" fill="#ffffff" textLength="21.5" lengthAdjust="spacingAndGlyphs" fill-opacity="0.85">01:31:09</text>
<rect x="981.5" y="218.9" width="35.3" height="8.0" fill="#2962ff"/>
<text x="985" y="225.2" font-size="5.4" fill="#ffffff" textLength="28.5" lengthAdjust="spacingAndGlyphs" stroke="#ffffff" stroke-width="0.18">0.98674325</text>
<rect x="981.5" y="241.3" width="35.3" height="8.2" fill="#089981"/>
<text x="985" y="247.6" font-size="5.4" fill="#ffffff" textLength="28.5" lengthAdjust="spacingAndGlyphs" stroke="#ffffff" stroke-width="0.18">0.92547774</text>
<rect x="981.5" y="429.4" width="20.6" height="8.2" fill="#7e57c2"/>
<text x="985" y="435.2" font-size="5.4" fill="#ffffff" textLength="13.8" lengthAdjust="spacingAndGlyphs" stroke="#ffffff" stroke-width="0.18">68.64</text>
<rect x="981.5" y="460.2" width="20.6" height="8.2" fill="#ffeb3b"/>
<text x="985" y="466.0" font-size="5.4" fill="#131722" textLength="13.8" lengthAdjust="spacingAndGlyphs" stroke="#131722" stroke-width="0.15">53.01</text>
<text x="40.5" y="552" font-size="5.4" fill="#2a2e39" text-anchor="middle">12:00</text>
<text x="82" y="552" font-size="5.4" fill="#2a2e39" text-anchor="middle">25</text>
<text x="124.25" y="552" font-size="5.4" fill="#2a2e39" text-anchor="middle">12:00</text>
<text x="165.75" y="552" font-size="5.4" fill="#2a2e39" text-anchor="middle">Apr</text>
<text x="208" y="552" font-size="5.4" fill="#2a2e39" text-anchor="middle">12:00</text>
<text x="249.5" y="552" font-size="5.4" fill="#2a2e39" text-anchor="middle">8</text>
<text x="292" y="552" font-size="5.4" fill="#2a2e39" text-anchor="middle">12:00</text>
<text x="334" y="552" font-size="5.4" fill="#2a2e39" text-anchor="middle">15</text>
<text x="376" y="552" font-size="5.4" fill="#2a2e39" text-anchor="middle">12:00</text>
<text x="417.75" y="552" font-size="5.4" fill="#2a2e39" text-anchor="middle">22</text>
<text x="465.5" y="552" font-size="5.4" fill="#2a2e39" text-anchor="middle">26</text>
<text x="525" y="552" font-size="5.4" fill="#2a2e39" text-anchor="middle">May</text>
<text x="585.25" y="552" font-size="5.4" fill="#2a2e39" text-anchor="middle">6</text>
<text x="627.5" y="552" font-size="5.4" fill="#2a2e39" text-anchor="middle">12:00</text>
<text x="669" y="552" font-size="5.4" fill="#2a2e39" text-anchor="middle">13</text>
<text x="711.25" y="552" font-size="5.4" fill="#2a2e39" text-anchor="middle">12:00</text>
<text x="752.75" y="552" font-size="5.4" fill="#2a2e39" text-anchor="middle">20</text>
<text x="795" y="552" font-size="5.4" fill="#2a2e39" text-anchor="middle">12:00</text>
<text x="836.75" y="552" font-size="5.4" fill="#2a2e39" text-anchor="middle">27</text>
<text x="896.75" y="552" font-size="5.4" fill="#2a2e39" text-anchor="middle">Jun</text>
<text x="944.5" y="552" font-size="5.4" fill="#2a2e39" text-anchor="middle">5</text>
<text x="5" y="8.8" font-size="5.6" fill="#131722" textLength="184.5" lengthAdjust="spacingAndGlyphs">BlockchainStories published on TradingView.com, Jun 06, 2024 10:28 UTC</text>
<text x="8.5" y="21.8" font-size="5.4" fill="#131722" textLength="50" lengthAdjust="spacingAndGlyphs">Mantle, 4h, CRYPTO</text>
<text y="21.8" font-size="5.4"><tspan x="61.6" fill="#131722">O</tspan><tspan fill="#ea4452" textLength="28.5" lengthAdjust="spacingAndGlyphs">1.04002259</tspan><tspan x="97.5" fill="#131722">H</tspan><tspan fill="#ea4452" textLength="28.5" lengthAdjust="spacingAndGlyphs">1.04073436</tspan><tspan x="133.8" fill="#131722">L</tspan><tspan fill="#ea4452" textLength="28.5" lengthAdjust="spacingAndGlyphs">1.02588969</tspan><tspan x="168.5" fill="#131722">C</tspan><tspan fill="#ea4452" textLength="28.5" lengthAdjust="spacingAndGlyphs">1.03780573</tspan><tspan x="204.4" fill="#ea4452" textLength="54.5" lengthAdjust="spacingAndGlyphs">−0.00229020 (−0.22%)</tspan></text>
<text x="8.5" y="30" font-size="5.4" fill="#131722" textLength="166.5" lengthAdjust="spacingAndGlyphs">Vol: The data vendor doesn’t provide volume data for this symbol.</text>
<text x="8.5" y="38.1" font-size="5.4" fill="#131722" textLength="55.5" lengthAdjust="spacingAndGlyphs">BB (20, SMA, close, 2)</text>
<text x="67" y="38.1" font-size="5.4" fill="#3566f0" textLength="28.5" lengthAdjust="spacingAndGlyphs">0.98674325</text>
<text x="99.2" y="38.1" font-size="5.4" fill="#ea4452" textLength="28.5" lengthAdjust="spacingAndGlyphs">1.04800876</text>
<text x="131" y="38.1" font-size="5.4" fill="#089981" textLength="28.5" lengthAdjust="spacingAndGlyphs">0.92547774</text>
<text x="8.5" y="375.7" font-size="5.4" fill="#131722" textLength="35.5" lengthAdjust="spacingAndGlyphs">RSI (14, close)</text>
<text x="47.75" y="375.7" font-size="5.4" fill="#7e57c2" textLength="13.8" lengthAdjust="spacingAndGlyphs">68.64</text>
<text x="64.6" y="375.7" font-size="5.4" fill="#e6d43a" textLength="13.8" lengthAdjust="spacingAndGlyphs">53.01</text>
<text x="82.5" y="375.7" font-size="5.4" fill="#50535e" textLength="24.5" lengthAdjust="spacingAndGlyphs">∅ ∅ ∅ ∅</text>
<clipPath id="fc"><circle cx="974.1" cy="359.75" r="4.7"/></clipPath>
<circle cx="974.1" cy="359.75" r="5.2" fill="#ef5f66"/>
<g clip-path="url(#fc)"><rect x="968.9" y="354.55" width="10.4" height="10.4" fill="#ef5f66"/><rect x="968.9" y="359.35" width="10.4" height="1.2" fill="#ffffff"/><rect x="968.9" y="361.75" width="10.4" height="1.1" fill="#ffffff"/><rect x="968.9" y="354.55" width="6.4" height="5.0" fill="#3f6fd8"/></g>
<g fill="#131722"><path d="M4.3 562.2h4.1v4.4h-2.1v-2.3h-2z"/><circle cx="9.6" cy="563.2" r="0.95"/><path d="M11.0 562.2h2.6l-2.1 4.4h-2.5z"/></g>
<text x="16.2" y="566.6" font-size="6.0" fill="#131722" textLength="32.5" lengthAdjust="spacingAndGlyphs">TradingView</text>
</svg>
</body></html>
